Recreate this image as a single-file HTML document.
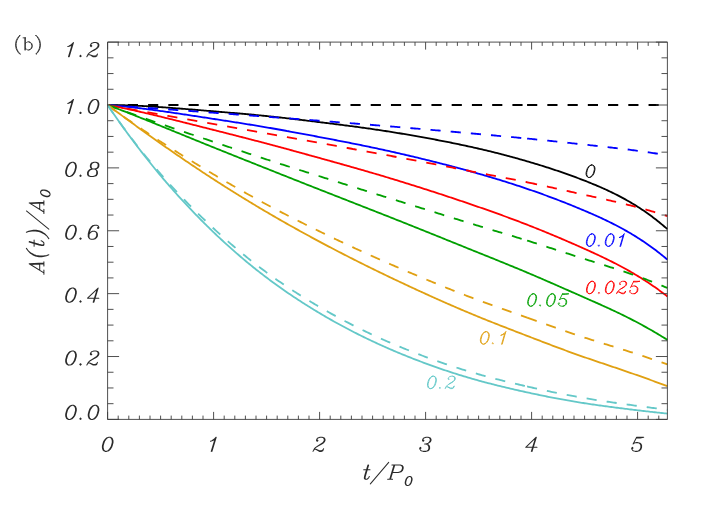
<!DOCTYPE html>
<html><head><meta charset="utf-8"><title>chart</title><style>html,body{margin:0;padding:0;background:#fff;overflow:hidden}svg{display:block}</style></head><body>
<svg width="706" height="505" viewBox="0 0 706 505">
<rect width="706" height="505" fill="#fff"/>
<defs><clipPath id="c"><rect x="107.6" y="42.1" width="560.4" height="377.3"/></clipPath></defs>
<g clip-path="url(#c)" fill="none" stroke-width="1.82" stroke-linejoin="round">
<path d="M107.6 105 L109 105 L110.41 105.01 L111.81 105.02 L113.21 105.03 L114.62 105.05 L116.02 105.07 L117.42 105.09 L118.82 105.12 L120.23 105.15 L121.63 105.18 L123.03 105.22 L124.44 105.26 L125.84 105.3 L127.24 105.35 L128.65 105.4 L130.05 105.45 L131.45 105.51 L132.85 105.56 L134.26 105.62 L135.66 105.69 L137.06 105.75 L138.47 105.82 L139.87 105.89 L141.27 105.96 L142.68 106.03 L144.08 106.11 L145.48 106.19 L146.88 106.27 L148.29 106.35 L149.69 106.44 L151.09 106.52 L152.5 106.61 L153.9 106.7 L155.3 106.79 L156.71 106.88 L158.11 106.97 L159.51 107.07 L160.91 107.16 L162.32 107.26 L163.72 107.36 L165.12 107.46 L166.53 107.56 L167.93 107.66 L169.33 107.76 L170.74 107.87 L172.14 107.97 L173.54 108.08 L174.94 108.19 L176.35 108.29 L177.75 108.4 L179.15 108.51 L180.56 108.62 L181.96 108.73 L183.36 108.84 L184.77 108.95 L186.17 109.07 L187.57 109.18 L188.97 109.29 L190.38 109.41 L191.78 109.52 L193.18 109.63 L194.59 109.75 L195.99 109.87 L197.39 109.98 L198.8 110.1 L200.2 110.21 L201.6 110.33 L203 110.45 L204.41 110.56 L205.81 110.68 L207.21 110.8 L208.62 110.92 L210.02 111.03 L211.42 111.15 L212.83 111.27 L214.23 111.38 L215.63 111.5 L217.03 111.62 L218.44 111.74 L219.84 111.85 L221.24 111.97 L222.65 112.09 L224.05 112.2 L225.45 112.32 L226.86 112.44 L228.26 112.56 L229.66 112.68 L231.06 112.79 L232.47 112.91 L233.87 113.03 L235.27 113.15 L236.68 113.27 L238.08 113.4 L239.48 113.52 L240.89 113.64 L242.29 113.76 L243.69 113.89 L245.09 114.01 L246.5 114.14 L247.9 114.27 L249.3 114.39 L250.71 114.52 L252.11 114.65 L253.51 114.78 L254.92 114.91 L256.32 115.05 L257.72 115.18 L259.12 115.32 L260.53 115.45 L261.93 115.59 L263.33 115.73 L264.74 115.87 L266.14 116.01 L267.54 116.15 L268.95 116.3 L270.35 116.45 L271.75 116.59 L273.15 116.74 L274.56 116.89 L275.96 117.04 L277.36 117.19 L278.77 117.35 L280.17 117.5 L281.57 117.66 L282.98 117.82 L284.38 117.97 L285.78 118.13 L287.18 118.29 L288.59 118.45 L289.99 118.62 L291.39 118.78 L292.8 118.94 L294.2 119.1 L295.6 119.27 L297.01 119.44 L298.41 119.6 L299.81 119.77 L301.22 119.94 L302.62 120.1 L304.02 120.27 L305.42 120.44 L306.83 120.61 L308.23 120.78 L309.63 120.95 L311.04 121.12 L312.44 121.29 L313.84 121.46 L315.25 121.64 L316.65 121.81 L318.05 121.98 L319.45 122.15 L320.86 122.32 L322.26 122.49 L323.66 122.67 L325.07 122.84 L326.47 123.01 L327.87 123.19 L329.28 123.36 L330.68 123.53 L332.08 123.71 L333.48 123.88 L334.89 124.06 L336.29 124.23 L337.69 124.41 L339.1 124.59 L340.5 124.77 L341.9 124.94 L343.31 125.12 L344.71 125.3 L346.11 125.48 L347.51 125.66 L348.92 125.85 L350.32 126.03 L351.72 126.22 L353.13 126.4 L354.53 126.59 L355.93 126.77 L357.34 126.96 L358.74 127.15 L360.14 127.34 L361.54 127.54 L362.95 127.73 L364.35 127.92 L365.75 128.12 L367.16 128.32 L368.56 128.52 L369.96 128.72 L371.37 128.92 L372.77 129.12 L374.17 129.33 L375.57 129.53 L376.98 129.74 L378.38 129.95 L379.78 130.16 L381.19 130.37 L382.59 130.59 L383.99 130.8 L385.4 131.02 L386.8 131.24 L388.2 131.46 L389.6 131.68 L391.01 131.9 L392.41 132.13 L393.81 132.35 L395.22 132.58 L396.62 132.81 L398.02 133.04 L399.43 133.27 L400.83 133.5 L402.23 133.74 L403.63 133.97 L405.04 134.21 L406.44 134.45 L407.84 134.69 L409.25 134.93 L410.65 135.17 L412.05 135.41 L413.46 135.66 L414.86 135.9 L416.26 136.15 L417.66 136.4 L419.07 136.65 L420.47 136.9 L421.87 137.15 L423.28 137.4 L424.68 137.66 L426.08 137.91 L427.49 138.17 L428.89 138.43 L430.29 138.69 L431.69 138.95 L433.1 139.21 L434.5 139.48 L435.9 139.74 L437.31 140.01 L438.71 140.28 L440.11 140.54 L441.52 140.82 L442.92 141.09 L444.32 141.36 L445.72 141.64 L447.13 141.92 L448.53 142.19 L449.93 142.48 L451.34 142.76 L452.74 143.04 L454.14 143.33 L455.55 143.62 L456.95 143.91 L458.35 144.2 L459.75 144.49 L461.16 144.79 L462.56 145.08 L463.96 145.38 L465.37 145.69 L466.77 145.99 L468.17 146.29 L469.58 146.6 L470.98 146.91 L472.38 147.22 L473.78 147.54 L475.19 147.86 L476.59 148.17 L477.99 148.5 L479.4 148.82 L480.8 149.14 L482.2 149.47 L483.61 149.8 L485.01 150.14 L486.41 150.47 L487.82 150.81 L489.22 151.15 L490.62 151.49 L492.02 151.84 L493.43 152.18 L494.83 152.53 L496.23 152.89 L497.64 153.24 L499.04 153.6 L500.44 153.96 L501.85 154.32 L503.25 154.68 L504.65 155.05 L506.05 155.42 L507.46 155.79 L508.86 156.17 L510.26 156.55 L511.67 156.93 L513.07 157.31 L514.47 157.69 L515.88 158.08 L517.28 158.47 L518.68 158.86 L520.08 159.26 L521.49 159.65 L522.89 160.05 L524.29 160.46 L525.7 160.86 L527.1 161.27 L528.5 161.68 L529.91 162.1 L531.31 162.51 L532.71 162.93 L534.11 163.35 L535.52 163.78 L536.92 164.2 L538.32 164.63 L539.73 165.07 L541.13 165.5 L542.53 165.94 L543.94 166.38 L545.34 166.83 L546.74 167.27 L548.14 167.73 L549.55 168.18 L550.95 168.64 L552.35 169.1 L553.76 169.56 L555.16 170.03 L556.56 170.5 L557.97 170.97 L559.37 171.45 L560.77 171.93 L562.17 172.41 L563.58 172.9 L564.98 173.39 L566.38 173.89 L567.79 174.39 L569.19 174.89 L570.59 175.4 L572 175.9 L573.4 176.42 L574.8 176.94 L576.2 177.46 L577.61 177.98 L579.01 178.51 L580.41 179.05 L581.82 179.58 L583.22 180.13 L584.62 180.67 L586.03 181.22 L587.43 181.78 L588.83 182.34 L590.23 182.9 L591.64 183.47 L593.04 184.05 L594.44 184.63 L595.85 185.21 L597.25 185.81 L598.65 186.41 L600.06 187.01 L601.46 187.63 L602.86 188.25 L604.26 188.88 L605.67 189.52 L607.07 190.16 L608.47 190.81 L609.88 191.48 L611.28 192.15 L612.68 192.83 L614.09 193.52 L615.49 194.21 L616.89 194.92 L618.29 195.64 L619.7 196.37 L621.1 197.11 L622.5 197.86 L623.91 198.62 L625.31 199.4 L626.71 200.18 L628.12 200.98 L629.52 201.79 L630.92 202.61 L632.32 203.44 L633.73 204.29 L635.13 205.15 L636.53 206.03 L637.94 206.91 L639.34 207.81 L640.74 208.73 L642.15 209.66 L643.55 210.6 L644.95 211.56 L646.35 212.54 L647.76 213.53 L649.16 214.54 L650.56 215.56 L651.97 216.6 L653.37 217.65 L654.77 218.72 L656.18 219.81 L657.58 220.92 L658.98 222.04 L660.38 223.18 L661.79 224.34 L663.19 225.52 L664.59 226.72 L666 227.93 L667.4 229.17" stroke="#000000"/>
<path d="M107.6 105 L109 105 L110.41 105 L111.81 105 L113.21 105 L114.62 105 L116.02 105 L117.42 105 L118.82 105 L120.23 105 L121.63 105 L123.03 105 L124.44 105 L125.84 105 L127.24 105 L128.65 105 L130.05 105 L131.45 105 L132.85 105 L134.26 105 L135.66 105 L137.06 105 L138.47 105 L139.87 105 L141.27 105 L142.68 105 L144.08 105 L145.48 105 L146.88 105 L148.29 105 L149.69 105 L151.09 105 L152.5 105 L153.9 105 L155.3 105 L156.71 105 L158.11 105 L159.51 105 L160.91 105 L162.32 105 L163.72 105 L165.12 105 L166.53 105 L167.93 105 L169.33 105 L170.74 105 L172.14 105 L173.54 105 L174.94 105 L176.35 105 L177.75 105 L179.15 105 L180.56 105 L181.96 105 L183.36 105 L184.77 105 L186.17 105 L187.57 105 L188.97 105 L190.38 105 L191.78 105 L193.18 105 L194.59 105 L195.99 105 L197.39 105 L198.8 105 L200.2 105 L201.6 105 L203 105 L204.41 105 L205.81 105 L207.21 105 L208.62 105 L210.02 105 L211.42 105 L212.83 105 L214.23 105 L215.63 105 L217.03 105 L218.44 105 L219.84 105 L221.24 105 L222.65 105 L224.05 105 L225.45 105 L226.86 105 L228.26 105 L229.66 105 L231.06 105 L232.47 105 L233.87 105 L235.27 105 L236.68 105 L238.08 105 L239.48 105 L240.89 105 L242.29 105 L243.69 105 L245.09 105 L246.5 105 L247.9 105 L249.3 105 L250.71 105 L252.11 105 L253.51 105 L254.92 105 L256.32 105 L257.72 105 L259.13 105 L260.53 105 L261.93 105 L263.33 105 L264.74 105 L266.14 105 L267.54 105 L268.95 105 L270.35 105 L271.75 105 L273.16 105 L274.56 105 L275.96 105 L277.36 105 L278.77 105 L280.17 105 L281.57 105 L282.98 105 L284.38 105 L285.78 105 L287.19 105 L288.59 105 L289.99 105 L291.39 105 L292.8 105 L294.2 105 L295.6 105 L297.01 105 L298.41 105 L299.81 105 L301.22 105 L302.62 105 L304.02 105 L305.42 105 L306.83 105 L308.23 105 L309.63 105 L311.04 105 L312.44 105 L313.84 105 L315.25 105 L316.65 105 L318.05 105 L319.45 105 L320.86 105 L322.26 105 L323.66 105 L325.07 105 L326.47 105 L327.87 105 L329.28 105 L330.68 105 L332.08 105 L333.48 105 L334.89 105 L336.29 105 L337.69 105 L339.1 105 L340.5 105 L341.9 105 L343.31 105 L344.71 105 L346.11 105 L347.51 105 L348.92 105 L350.32 105 L351.72 105 L353.13 105 L354.53 105 L355.93 105 L357.34 105 L358.74 105 L360.14 105 L361.54 105 L362.95 105 L364.35 105 L365.75 105 L367.16 105 L368.56 105 L369.96 105 L371.37 105 L372.77 105 L374.17 105 L375.57 105 L376.98 105 L378.38 105 L379.78 105 L381.19 105 L382.59 105 L383.99 105 L385.4 105 L386.8 105 L388.2 105 L389.61 105 L391.01 105 L392.41 105 L393.81 105 L395.22 105 L396.62 105 L398.02 105 L399.43 105 L400.83 105 L402.23 105 L403.64 105 L405.04 105 L406.44 105 L407.84 105 L409.25 105 L410.65 105 L412.05 105 L413.46 105 L414.86 105 L416.26 105 L417.67 105 L419.07 105 L420.47 105 L421.87 105 L423.28 105 L424.68 105 L426.08 105 L427.49 105 L428.89 105 L430.29 105 L431.7 105 L433.1 105 L434.5 105 L435.9 105 L437.31 105 L438.71 105 L440.11 105 L441.52 105 L442.92 105 L444.32 105 L445.73 105 L447.13 105 L448.53 105 L449.93 105 L451.34 105 L452.74 105 L454.14 105 L455.55 105 L456.95 105 L458.35 105 L459.76 105 L461.16 105 L462.56 105 L463.96 105 L465.37 105 L466.77 105 L468.17 105 L469.58 105 L470.98 105 L472.38 105 L473.79 105 L475.19 105 L476.59 105 L477.99 105 L479.4 105 L480.8 105 L482.2 105 L483.61 105 L485.01 105 L486.41 105 L487.82 105 L489.22 105 L490.62 105 L492.02 105 L493.43 105 L494.83 105 L496.23 105 L497.64 105 L499.04 105 L500.44 105 L501.85 105 L503.25 105 L504.65 105 L506.05 105 L507.46 105 L508.86 105 L510.26 105 L511.67 105 L513.07 105 L514.47 105 L515.88 105 L517.28 105 L518.68 105 L520.08 105 L521.49 105 L522.89 105 L524.29 105 L525.7 105 L527.1 105" stroke="#000000" stroke-dasharray="10.17 10.07"/>
<path d="M527.1 105 L528.52 105 L529.93 105 L531.35 105 L532.77 105 L534.19 105 L535.6 105 L537.02 105 L538.44 105 L539.85 105 L541.27 105 L542.69 105 L544.11 105 L545.52 105 L546.94 105 L548.36 105 L549.77 105 L551.19 105 L552.61 105 L554.03 105 L555.44 105 L556.86 105 L558.28 105 L559.69 105 L561.11 105 L562.53 105 L563.95 105 L565.36 105 L566.78 105 L568.2 105 L569.62 105 L571.03 105 L572.45 105 L573.87 105 L575.28 105 L576.7 105 L578.12 105 L579.54 105 L580.95 105 L582.37 105 L583.79 105 L585.2 105 L586.62 105 L588.04 105 L589.46 105 L590.87 105 L592.29 105 L593.71 105 L595.12 105 L596.54 105 L597.96 105 L599.38 105 L600.79 105 L602.21 105 L603.63 105 L605.04 105 L606.46 105 L607.88 105 L609.3 105 L610.71 105 L612.13 105 L613.55 105 L614.96 105 L616.38 105 L617.8 105 L619.22 105 L620.63 105 L622.05 105 L623.47 105 L624.88 105 L626.3 105 L627.72 105 L629.14 105 L630.55 105 L631.97 105 L633.39 105 L634.81 105 L636.22 105 L637.64 105 L639.06 105 L640.47 105 L641.89 105 L643.31 105 L644.73 105 L646.14 105 L647.56 105 L648.98 105 L650.39 105 L651.81 105 L653.23 105 L654.65 105 L656.06 105 L657.48 105 L658.9 105 L660.31 105 L661.73 105 L663.15 105 L664.57 105 L665.98 105 L667.4 105" stroke="#000000" stroke-dasharray="10.17 10.07"/>
<path d="M107.6 105 L109 105.11 L110.41 105.22 L111.81 105.33 L113.21 105.45 L114.62 105.57 L116.02 105.69 L117.42 105.82 L118.82 105.95 L120.23 106.08 L121.63 106.22 L123.03 106.36 L124.44 106.5 L125.84 106.64 L127.24 106.79 L128.65 106.94 L130.05 107.1 L131.45 107.25 L132.85 107.41 L134.26 107.57 L135.66 107.74 L137.06 107.9 L138.47 108.07 L139.87 108.24 L141.27 108.42 L142.68 108.59 L144.08 108.77 L145.48 108.95 L146.88 109.13 L148.29 109.31 L149.69 109.5 L151.09 109.68 L152.5 109.87 L153.9 110.06 L155.3 110.25 L156.71 110.44 L158.11 110.64 L159.51 110.83 L160.91 111.03 L162.32 111.22 L163.72 111.42 L165.12 111.62 L166.53 111.82 L167.93 112.02 L169.33 112.22 L170.74 112.43 L172.14 112.63 L173.54 112.84 L174.94 113.04 L176.35 113.25 L177.75 113.46 L179.15 113.66 L180.56 113.87 L181.96 114.08 L183.36 114.29 L184.77 114.5 L186.17 114.71 L187.57 114.93 L188.97 115.14 L190.38 115.35 L191.78 115.56 L193.18 115.78 L194.59 115.99 L195.99 116.21 L197.39 116.42 L198.8 116.64 L200.2 116.85 L201.6 117.07 L203 117.28 L204.41 117.5 L205.81 117.72 L207.21 117.93 L208.62 118.15 L210.02 118.36 L211.42 118.58 L212.83 118.8 L214.23 119.01 L215.63 119.23 L217.03 119.45 L218.44 119.66 L219.84 119.88 L221.24 120.1 L222.65 120.31 L224.05 120.53 L225.45 120.75 L226.86 120.96 L228.26 121.18 L229.66 121.4 L231.06 121.62 L232.47 121.84 L233.87 122.06 L235.27 122.28 L236.68 122.5 L238.08 122.72 L239.48 122.94 L240.89 123.16 L242.29 123.38 L243.69 123.61 L245.09 123.83 L246.5 124.05 L247.9 124.28 L249.3 124.51 L250.71 124.73 L252.11 124.96 L253.51 125.19 L254.92 125.42 L256.32 125.65 L257.72 125.88 L259.12 126.12 L260.53 126.35 L261.93 126.59 L263.33 126.82 L264.74 127.06 L266.14 127.3 L267.54 127.54 L268.95 127.78 L270.35 128.02 L271.75 128.27 L273.15 128.51 L274.56 128.76 L275.96 129.01 L277.36 129.25 L278.77 129.5 L280.17 129.75 L281.57 130 L282.98 130.26 L284.38 130.51 L285.78 130.76 L287.18 131.02 L288.59 131.27 L289.99 131.53 L291.39 131.79 L292.8 132.04 L294.2 132.3 L295.6 132.56 L297.01 132.82 L298.41 133.08 L299.81 133.34 L301.22 133.61 L302.62 133.87 L304.02 134.13 L305.42 134.39 L306.83 134.66 L308.23 134.92 L309.63 135.19 L311.04 135.45 L312.44 135.71 L313.84 135.98 L315.25 136.25 L316.65 136.51 L318.05 136.78 L319.45 137.04 L320.86 137.31 L322.26 137.58 L323.66 137.84 L325.07 138.11 L326.47 138.38 L327.87 138.64 L329.28 138.91 L330.68 139.18 L332.08 139.45 L333.48 139.72 L334.89 139.99 L336.29 140.26 L337.69 140.53 L339.1 140.8 L340.5 141.07 L341.9 141.34 L343.31 141.62 L344.71 141.89 L346.11 142.17 L347.51 142.44 L348.92 142.72 L350.32 143 L351.72 143.27 L353.13 143.55 L354.53 143.83 L355.93 144.12 L357.34 144.4 L358.74 144.68 L360.14 144.96 L361.54 145.25 L362.95 145.54 L364.35 145.82 L365.75 146.11 L367.16 146.4 L368.56 146.7 L369.96 146.99 L371.37 147.28 L372.77 147.58 L374.17 147.87 L375.57 148.17 L376.98 148.47 L378.38 148.77 L379.78 149.08 L381.19 149.38 L382.59 149.69 L383.99 149.99 L385.4 150.3 L386.8 150.61 L388.2 150.92 L389.6 151.23 L391.01 151.55 L392.41 151.86 L393.81 152.18 L395.22 152.49 L396.62 152.81 L398.02 153.13 L399.43 153.45 L400.83 153.77 L402.23 154.1 L403.63 154.42 L405.04 154.75 L406.44 155.08 L407.84 155.41 L409.25 155.74 L410.65 156.07 L412.05 156.4 L413.46 156.73 L414.86 157.07 L416.26 157.4 L417.66 157.74 L419.07 158.08 L420.47 158.42 L421.87 158.76 L423.28 159.1 L424.68 159.45 L426.08 159.79 L427.49 160.14 L428.89 160.48 L430.29 160.83 L431.69 161.18 L433.1 161.53 L434.5 161.88 L435.9 162.23 L437.31 162.59 L438.71 162.94 L440.11 163.3 L441.52 163.66 L442.92 164.02 L444.32 164.38 L445.72 164.74 L447.13 165.11 L448.53 165.47 L449.93 165.84 L451.34 166.21 L452.74 166.58 L454.14 166.95 L455.55 167.32 L456.95 167.7 L458.35 168.07 L459.75 168.45 L461.16 168.83 L462.56 169.21 L463.96 169.59 L465.37 169.98 L466.77 170.36 L468.17 170.75 L469.58 171.14 L470.98 171.53 L472.38 171.92 L473.78 172.32 L475.19 172.71 L476.59 173.11 L477.99 173.51 L479.4 173.91 L480.8 174.31 L482.2 174.72 L483.61 175.13 L485.01 175.53 L486.41 175.95 L487.82 176.36 L489.22 176.77 L490.62 177.19 L492.02 177.61 L493.43 178.03 L494.83 178.45 L496.23 178.88 L497.64 179.3 L499.04 179.73 L500.44 180.17 L501.85 180.6 L503.25 181.04 L504.65 181.47 L506.05 181.91 L507.46 182.36 L508.86 182.8 L510.26 183.25 L511.67 183.7 L513.07 184.15 L514.47 184.61 L515.88 185.06 L517.28 185.52 L518.68 185.98 L520.08 186.45 L521.49 186.92 L522.89 187.38 L524.29 187.86 L525.7 188.33 L527.1 188.81 L528.5 189.29 L529.91 189.77 L531.31 190.25 L532.71 190.74 L534.11 191.23 L535.52 191.73 L536.92 192.22 L538.32 192.72 L539.73 193.22 L541.13 193.72 L542.53 194.23 L543.94 194.74 L545.34 195.25 L546.74 195.77 L548.14 196.28 L549.55 196.8 L550.95 197.33 L552.35 197.85 L553.76 198.38 L555.16 198.91 L556.56 199.45 L557.97 199.98 L559.37 200.52 L560.77 201.06 L562.17 201.61 L563.58 202.16 L564.98 202.71 L566.38 203.26 L567.79 203.82 L569.19 204.38 L570.59 204.94 L572 205.51 L573.4 206.08 L574.8 206.65 L576.2 207.23 L577.61 207.8 L579.01 208.39 L580.41 208.97 L581.82 209.56 L583.22 210.15 L584.62 210.74 L586.03 211.34 L587.43 211.94 L588.83 212.54 L590.23 213.15 L591.64 213.76 L593.04 214.37 L594.44 214.99 L595.85 215.62 L597.25 216.25 L598.65 216.89 L600.06 217.53 L601.46 218.18 L602.86 218.83 L604.26 219.49 L605.67 220.16 L607.07 220.83 L608.47 221.52 L609.88 222.2 L611.28 222.9 L612.68 223.61 L614.09 224.32 L615.49 225.04 L616.89 225.77 L618.29 226.51 L619.7 227.25 L621.1 228.01 L622.5 228.78 L623.91 229.55 L625.31 230.34 L626.71 231.14 L628.12 231.94 L629.52 232.76 L630.92 233.59 L632.32 234.43 L633.73 235.28 L635.13 236.14 L636.53 237.02 L637.94 237.9 L639.34 238.8 L640.74 239.71 L642.15 240.63 L643.55 241.57 L644.95 242.52 L646.35 243.48 L647.76 244.46 L649.16 245.44 L650.56 246.45 L651.97 247.46 L653.37 248.5 L654.77 249.54 L656.18 250.6 L657.58 251.68 L658.98 252.76 L660.38 253.87 L661.79 254.99 L663.19 256.12 L664.59 257.28 L666 258.44 L667.4 259.62" stroke="#0000ff"/>
<path d="M107.6 105 L109 105.1 L110.41 105.21 L111.81 105.31 L113.21 105.41 L114.62 105.52 L116.02 105.62 L117.42 105.72 L118.82 105.83 L120.23 105.93 L121.63 106.03 L123.03 106.14 L124.44 106.24 L125.84 106.34 L127.24 106.44 L128.65 106.55 L130.05 106.65 L131.45 106.75 L132.85 106.85 L134.26 106.96 L135.66 107.06 L137.06 107.16 L138.47 107.26 L139.87 107.36 L141.27 107.47 L142.68 107.57 L144.08 107.67 L145.48 107.77 L146.88 107.87 L148.29 107.97 L149.69 108.08 L151.09 108.18 L152.5 108.28 L153.9 108.38 L155.3 108.48 L156.71 108.58 L158.11 108.69 L159.51 108.79 L160.91 108.89 L162.32 108.99 L163.72 109.09 L165.12 109.19 L166.53 109.3 L167.93 109.4 L169.33 109.5 L170.74 109.6 L172.14 109.7 L173.54 109.8 L174.94 109.91 L176.35 110.01 L177.75 110.11 L179.15 110.21 L180.56 110.31 L181.96 110.42 L183.36 110.52 L184.77 110.62 L186.17 110.72 L187.57 110.83 L188.97 110.93 L190.38 111.03 L191.78 111.13 L193.18 111.24 L194.59 111.34 L195.99 111.44 L197.39 111.54 L198.8 111.65 L200.2 111.75 L201.6 111.85 L203 111.96 L204.41 112.06 L205.81 112.16 L207.21 112.27 L208.62 112.37 L210.02 112.47 L211.42 112.58 L212.83 112.68 L214.23 112.79 L215.63 112.89 L217.03 113 L218.44 113.1 L219.84 113.21 L221.24 113.31 L222.65 113.42 L224.05 113.52 L225.45 113.63 L226.86 113.73 L228.26 113.84 L229.66 113.94 L231.06 114.05 L232.47 114.15 L233.87 114.26 L235.27 114.36 L236.68 114.47 L238.08 114.58 L239.48 114.68 L240.89 114.79 L242.29 114.89 L243.69 115 L245.09 115.11 L246.5 115.21 L247.9 115.32 L249.3 115.42 L250.71 115.53 L252.11 115.64 L253.51 115.74 L254.92 115.85 L256.32 115.96 L257.72 116.06 L259.13 116.17 L260.53 116.27 L261.93 116.38 L263.33 116.49 L264.74 116.59 L266.14 116.7 L267.54 116.8 L268.95 116.91 L270.35 117.02 L271.75 117.12 L273.16 117.23 L274.56 117.33 L275.96 117.44 L277.36 117.55 L278.77 117.65 L280.17 117.76 L281.57 117.86 L282.98 117.97 L284.38 118.08 L285.78 118.18 L287.19 118.29 L288.59 118.39 L289.99 118.5 L291.39 118.61 L292.8 118.71 L294.2 118.82 L295.6 118.92 L297.01 119.03 L298.41 119.14 L299.81 119.24 L301.22 119.35 L302.62 119.46 L304.02 119.57 L305.42 119.67 L306.83 119.78 L308.23 119.89 L309.63 119.99 L311.04 120.1 L312.44 120.21 L313.84 120.32 L315.25 120.43 L316.65 120.53 L318.05 120.64 L319.45 120.75 L320.86 120.86 L322.26 120.97 L323.66 121.08 L325.07 121.19 L326.47 121.3 L327.87 121.41 L329.28 121.52 L330.68 121.63 L332.08 121.74 L333.48 121.85 L334.89 121.96 L336.29 122.07 L337.69 122.18 L339.1 122.29 L340.5 122.4 L341.9 122.51 L343.31 122.62 L344.71 122.73 L346.11 122.85 L347.51 122.96 L348.92 123.07 L350.32 123.18 L351.72 123.29 L353.13 123.41 L354.53 123.52 L355.93 123.63 L357.34 123.74 L358.74 123.86 L360.14 123.97 L361.54 124.08 L362.95 124.2 L364.35 124.31 L365.75 124.42 L367.16 124.54 L368.56 124.65 L369.96 124.76 L371.37 124.88 L372.77 124.99 L374.17 125.1 L375.57 125.22 L376.98 125.33 L378.38 125.45 L379.78 125.56 L381.19 125.68 L382.59 125.79 L383.99 125.9 L385.4 126.02 L386.8 126.13 L388.2 126.25 L389.61 126.36 L391.01 126.48 L392.41 126.6 L393.81 126.71 L395.22 126.83 L396.62 126.94 L398.02 127.06 L399.43 127.18 L400.83 127.29 L402.23 127.41 L403.64 127.53 L405.04 127.65 L406.44 127.76 L407.84 127.88 L409.25 128 L410.65 128.12 L412.05 128.24 L413.46 128.35 L414.86 128.47 L416.26 128.59 L417.67 128.71 L419.07 128.83 L420.47 128.95 L421.87 129.07 L423.28 129.19 L424.68 129.31 L426.08 129.43 L427.49 129.56 L428.89 129.68 L430.29 129.8 L431.7 129.92 L433.1 130.04 L434.5 130.17 L435.9 130.29 L437.31 130.41 L438.71 130.53 L440.11 130.66 L441.52 130.78 L442.92 130.91 L444.32 131.03 L445.73 131.15 L447.13 131.28 L448.53 131.4 L449.93 131.53 L451.34 131.65 L452.74 131.78 L454.14 131.9 L455.55 132.02 L456.95 132.15 L458.35 132.27 L459.76 132.4 L461.16 132.53 L462.56 132.65 L463.96 132.78 L465.37 132.9 L466.77 133.03 L468.17 133.15 L469.58 133.28 L470.98 133.4 L472.38 133.53 L473.79 133.65 L475.19 133.78 L476.59 133.9 L477.99 134.03 L479.4 134.15 L480.8 134.28 L482.2 134.4 L483.61 134.53 L485.01 134.65 L486.41 134.78 L487.82 134.91 L489.22 135.03 L490.62 135.16 L492.02 135.28 L493.43 135.41 L494.83 135.53 L496.23 135.66 L497.64 135.79 L499.04 135.91 L500.44 136.04 L501.85 136.17 L503.25 136.3 L504.65 136.42 L506.05 136.55 L507.46 136.68 L508.86 136.81 L510.26 136.94 L511.67 137.07 L513.07 137.2 L514.47 137.33 L515.88 137.46 L517.28 137.6 L518.68 137.73 L520.08 137.86 L521.49 138 L522.89 138.13 L524.29 138.27 L525.7 138.4 L527.1 138.54" stroke="#0000ff" stroke-dasharray="10.17 10.07"/>
<path d="M527.1 138.54 L528.52 138.68 L529.93 138.82 L531.35 138.96 L532.77 139.1 L534.19 139.24 L535.6 139.38 L537.02 139.53 L538.44 139.67 L539.85 139.82 L541.27 139.96 L542.69 140.11 L544.11 140.25 L545.52 140.4 L546.94 140.55 L548.36 140.7 L549.77 140.85 L551.19 141 L552.61 141.14 L554.03 141.3 L555.44 141.45 L556.86 141.6 L558.28 141.75 L559.69 141.9 L561.11 142.05 L562.53 142.2 L563.95 142.36 L565.36 142.51 L566.78 142.66 L568.2 142.82 L569.62 142.97 L571.03 143.12 L572.45 143.28 L573.87 143.43 L575.28 143.58 L576.7 143.74 L578.12 143.89 L579.54 144.05 L580.95 144.2 L582.37 144.35 L583.79 144.51 L585.2 144.66 L586.62 144.82 L588.04 144.97 L589.46 145.12 L590.87 145.28 L592.29 145.43 L593.71 145.59 L595.12 145.74 L596.54 145.9 L597.96 146.05 L599.38 146.21 L600.79 146.37 L602.21 146.52 L603.63 146.68 L605.04 146.84 L606.46 147 L607.88 147.16 L609.3 147.32 L610.71 147.48 L612.13 147.65 L613.55 147.81 L614.96 147.98 L616.38 148.14 L617.8 148.31 L619.22 148.48 L620.63 148.65 L622.05 148.82 L623.47 148.99 L624.88 149.17 L626.3 149.34 L627.72 149.52 L629.14 149.7 L630.55 149.88 L631.97 150.06 L633.39 150.25 L634.81 150.43 L636.22 150.62 L637.64 150.81 L639.06 151 L640.47 151.2 L641.89 151.39 L643.31 151.59 L644.73 151.79 L646.14 151.99 L647.56 152.2 L648.98 152.41 L650.39 152.62 L651.81 152.83 L653.23 153.04 L654.65 153.26 L656.06 153.48 L657.48 153.7 L658.9 153.93 L660.31 154.16 L661.73 154.39 L663.15 154.62 L664.57 154.86 L665.98 155.1 L667.4 155.34" stroke="#0000ff" stroke-dasharray="10.17 10.07"/>
<path d="M107.6 105 L109 105.26 L110.41 105.53 L111.81 105.79 L113.21 106.07 L114.62 106.34 L116.02 106.62 L117.42 106.9 L118.82 107.18 L120.23 107.47 L121.63 107.76 L123.03 108.05 L124.44 108.35 L125.84 108.64 L127.24 108.94 L128.65 109.25 L130.05 109.55 L131.45 109.86 L132.85 110.17 L134.26 110.48 L135.66 110.79 L137.06 111.11 L138.47 111.43 L139.87 111.75 L141.27 112.07 L142.68 112.39 L144.08 112.72 L145.48 113.04 L146.88 113.37 L148.29 113.7 L149.69 114.03 L151.09 114.37 L152.5 114.7 L153.9 115.04 L155.3 115.37 L156.71 115.71 L158.11 116.05 L159.51 116.39 L160.91 116.73 L162.32 117.07 L163.72 117.42 L165.12 117.76 L166.53 118.1 L167.93 118.45 L169.33 118.79 L170.74 119.14 L172.14 119.49 L173.54 119.84 L174.94 120.19 L176.35 120.53 L177.75 120.88 L179.15 121.24 L180.56 121.59 L181.96 121.94 L183.36 122.29 L184.77 122.64 L186.17 123 L187.57 123.35 L188.97 123.7 L190.38 124.06 L191.78 124.41 L193.18 124.77 L194.59 125.12 L195.99 125.48 L197.39 125.83 L198.8 126.19 L200.2 126.54 L201.6 126.9 L203 127.26 L204.41 127.61 L205.81 127.97 L207.21 128.32 L208.62 128.68 L210.02 129.04 L211.42 129.39 L212.83 129.75 L214.23 130.1 L215.63 130.46 L217.03 130.82 L218.44 131.17 L219.84 131.53 L221.24 131.88 L222.65 132.24 L224.05 132.6 L225.45 132.95 L226.86 133.31 L228.26 133.67 L229.66 134.02 L231.06 134.38 L232.47 134.74 L233.87 135.09 L235.27 135.45 L236.68 135.81 L238.08 136.17 L239.48 136.53 L240.89 136.89 L242.29 137.25 L243.69 137.61 L245.09 137.97 L246.5 138.33 L247.9 138.69 L249.3 139.05 L250.71 139.41 L252.11 139.78 L253.51 140.14 L254.92 140.51 L256.32 140.87 L257.72 141.24 L259.12 141.6 L260.53 141.97 L261.93 142.34 L263.33 142.71 L264.74 143.08 L266.14 143.45 L267.54 143.82 L268.95 144.19 L270.35 144.57 L271.75 144.94 L273.15 145.32 L274.56 145.69 L275.96 146.07 L277.36 146.45 L278.77 146.82 L280.17 147.2 L281.57 147.58 L282.98 147.96 L284.38 148.34 L285.78 148.72 L287.18 149.11 L288.59 149.49 L289.99 149.87 L291.39 150.25 L292.8 150.64 L294.2 151.02 L295.6 151.41 L297.01 151.79 L298.41 152.18 L299.81 152.56 L301.22 152.95 L302.62 153.34 L304.02 153.72 L305.42 154.11 L306.83 154.5 L308.23 154.89 L309.63 155.27 L311.04 155.66 L312.44 156.05 L313.84 156.44 L315.25 156.83 L316.65 157.22 L318.05 157.61 L319.45 157.99 L320.86 158.38 L322.26 158.77 L323.66 159.16 L325.07 159.55 L326.47 159.94 L327.87 160.33 L329.28 160.72 L330.68 161.11 L332.08 161.5 L333.48 161.89 L334.89 162.29 L336.29 162.68 L337.69 163.07 L339.1 163.46 L340.5 163.86 L341.9 164.25 L343.31 164.64 L344.71 165.04 L346.11 165.43 L347.51 165.83 L348.92 166.23 L350.32 166.62 L351.72 167.02 L353.13 167.42 L354.53 167.82 L355.93 168.22 L357.34 168.62 L358.74 169.02 L360.14 169.42 L361.54 169.83 L362.95 170.23 L364.35 170.64 L365.75 171.04 L367.16 171.45 L368.56 171.86 L369.96 172.26 L371.37 172.67 L372.77 173.09 L374.17 173.5 L375.57 173.91 L376.98 174.32 L378.38 174.74 L379.78 175.16 L381.19 175.57 L382.59 175.99 L383.99 176.41 L385.4 176.83 L386.8 177.25 L388.2 177.67 L389.6 178.1 L391.01 178.52 L392.41 178.95 L393.81 179.37 L395.22 179.8 L396.62 180.23 L398.02 180.66 L399.43 181.09 L400.83 181.52 L402.23 181.95 L403.63 182.39 L405.04 182.82 L406.44 183.26 L407.84 183.69 L409.25 184.13 L410.65 184.57 L412.05 185.01 L413.46 185.45 L414.86 185.89 L416.26 186.33 L417.66 186.78 L419.07 187.22 L420.47 187.67 L421.87 188.11 L423.28 188.56 L424.68 189.01 L426.08 189.46 L427.49 189.91 L428.89 190.36 L430.29 190.81 L431.69 191.26 L433.1 191.72 L434.5 192.17 L435.9 192.63 L437.31 193.09 L438.71 193.54 L440.11 194 L441.52 194.46 L442.92 194.92 L444.32 195.39 L445.72 195.85 L447.13 196.31 L448.53 196.78 L449.93 197.24 L451.34 197.71 L452.74 198.18 L454.14 198.65 L455.55 199.11 L456.95 199.59 L458.35 200.06 L459.75 200.53 L461.16 201 L462.56 201.48 L463.96 201.95 L465.37 202.43 L466.77 202.91 L468.17 203.39 L469.58 203.87 L470.98 204.35 L472.38 204.83 L473.78 205.31 L475.19 205.79 L476.59 206.28 L477.99 206.77 L479.4 207.25 L480.8 207.74 L482.2 208.23 L483.61 208.72 L485.01 209.21 L486.41 209.7 L487.82 210.2 L489.22 210.69 L490.62 211.19 L492.02 211.69 L493.43 212.19 L494.83 212.69 L496.23 213.19 L497.64 213.69 L499.04 214.2 L500.44 214.71 L501.85 215.21 L503.25 215.73 L504.65 216.24 L506.05 216.75 L507.46 217.27 L508.86 217.79 L510.26 218.31 L511.67 218.83 L513.07 219.35 L514.47 219.88 L515.88 220.4 L517.28 220.93 L518.68 221.47 L520.08 222 L521.49 222.54 L522.89 223.08 L524.29 223.62 L525.7 224.16 L527.1 224.7 L528.5 225.25 L529.91 225.8 L531.31 226.35 L532.71 226.91 L534.11 227.47 L535.52 228.02 L536.92 228.59 L538.32 229.15 L539.73 229.72 L541.13 230.28 L542.53 230.86 L543.94 231.43 L545.34 232 L546.74 232.58 L548.14 233.16 L549.55 233.74 L550.95 234.32 L552.35 234.91 L553.76 235.5 L555.16 236.09 L556.56 236.68 L557.97 237.27 L559.37 237.87 L560.77 238.46 L562.17 239.06 L563.58 239.66 L564.98 240.27 L566.38 240.87 L567.79 241.48 L569.19 242.09 L570.59 242.7 L572 243.31 L573.4 243.92 L574.8 244.54 L576.2 245.16 L577.61 245.77 L579.01 246.39 L580.41 247.02 L581.82 247.64 L583.22 248.27 L584.62 248.89 L586.03 249.52 L587.43 250.15 L588.83 250.78 L590.23 251.42 L591.64 252.06 L593.04 252.7 L594.44 253.34 L595.85 253.99 L597.25 254.64 L598.65 255.3 L600.06 255.96 L601.46 256.62 L602.86 257.29 L604.26 257.96 L605.67 258.64 L607.07 259.32 L608.47 260.01 L609.88 260.71 L611.28 261.41 L612.68 262.12 L614.09 262.83 L615.49 263.55 L616.89 264.28 L618.29 265.01 L619.7 265.75 L621.1 266.5 L622.5 267.25 L623.91 268.02 L625.31 268.79 L626.71 269.57 L628.12 270.36 L629.52 271.15 L630.92 271.96 L632.32 272.77 L633.73 273.6 L635.13 274.43 L636.53 275.27 L637.94 276.12 L639.34 276.98 L640.74 277.85 L642.15 278.73 L643.55 279.62 L644.95 280.52 L646.35 281.43 L647.76 282.36 L649.16 283.29 L650.56 284.23 L651.97 285.18 L653.37 286.15 L654.77 287.12 L656.18 288.11 L657.58 289.11 L658.98 290.12 L660.38 291.14 L661.79 292.17 L663.19 293.22 L664.59 294.27 L666 295.34 L667.4 296.42" stroke="#ff0000"/>
<path d="M107.6 105 L109 105.26 L110.41 105.52 L111.81 105.78 L113.21 106.04 L114.62 106.29 L116.02 106.55 L117.42 106.81 L118.82 107.06 L120.23 107.32 L121.63 107.58 L123.03 107.83 L124.44 108.09 L125.84 108.34 L127.24 108.6 L128.65 108.85 L130.05 109.11 L131.45 109.36 L132.85 109.61 L134.26 109.87 L135.66 110.12 L137.06 110.37 L138.47 110.62 L139.87 110.88 L141.27 111.13 L142.68 111.38 L144.08 111.63 L145.48 111.88 L146.88 112.13 L148.29 112.38 L149.69 112.63 L151.09 112.88 L152.5 113.13 L153.9 113.38 L155.3 113.63 L156.71 113.88 L158.11 114.13 L159.51 114.38 L160.91 114.63 L162.32 114.88 L163.72 115.13 L165.12 115.38 L166.53 115.63 L167.93 115.88 L169.33 116.13 L170.74 116.38 L172.14 116.63 L173.54 116.87 L174.94 117.12 L176.35 117.37 L177.75 117.62 L179.15 117.87 L180.56 118.12 L181.96 118.37 L183.36 118.61 L184.77 118.86 L186.17 119.11 L187.57 119.36 L188.97 119.61 L190.38 119.86 L191.78 120.11 L193.18 120.36 L194.59 120.61 L195.99 120.86 L197.39 121.11 L198.8 121.35 L200.2 121.6 L201.6 121.85 L203 122.1 L204.41 122.35 L205.81 122.6 L207.21 122.85 L208.62 123.1 L210.02 123.36 L211.42 123.61 L212.83 123.86 L214.23 124.11 L215.63 124.36 L217.03 124.61 L218.44 124.86 L219.84 125.11 L221.24 125.37 L222.65 125.62 L224.05 125.87 L225.45 126.12 L226.86 126.38 L228.26 126.63 L229.66 126.88 L231.06 127.13 L232.47 127.39 L233.87 127.64 L235.27 127.89 L236.68 128.14 L238.08 128.4 L239.48 128.65 L240.89 128.9 L242.29 129.15 L243.69 129.41 L245.09 129.66 L246.5 129.91 L247.9 130.16 L249.3 130.42 L250.71 130.67 L252.11 130.92 L253.51 131.17 L254.92 131.43 L256.32 131.68 L257.72 131.93 L259.13 132.18 L260.53 132.43 L261.93 132.68 L263.33 132.93 L264.74 133.18 L266.14 133.43 L267.54 133.68 L268.95 133.93 L270.35 134.18 L271.75 134.43 L273.16 134.68 L274.56 134.93 L275.96 135.18 L277.36 135.43 L278.77 135.68 L280.17 135.93 L281.57 136.18 L282.98 136.43 L284.38 136.68 L285.78 136.92 L287.19 137.17 L288.59 137.42 L289.99 137.67 L291.39 137.92 L292.8 138.17 L294.2 138.42 L295.6 138.66 L297.01 138.91 L298.41 139.16 L299.81 139.41 L301.22 139.66 L302.62 139.91 L304.02 140.16 L305.42 140.41 L306.83 140.66 L308.23 140.91 L309.63 141.16 L311.04 141.41 L312.44 141.66 L313.84 141.91 L315.25 142.16 L316.65 142.41 L318.05 142.66 L319.45 142.91 L320.86 143.16 L322.26 143.42 L323.66 143.67 L325.07 143.92 L326.47 144.17 L327.87 144.43 L329.28 144.68 L330.68 144.93 L332.08 145.19 L333.48 145.44 L334.89 145.69 L336.29 145.95 L337.69 146.2 L339.1 146.46 L340.5 146.71 L341.9 146.97 L343.31 147.22 L344.71 147.48 L346.11 147.73 L347.51 147.99 L348.92 148.25 L350.32 148.5 L351.72 148.76 L353.13 149.02 L354.53 149.27 L355.93 149.53 L357.34 149.79 L358.74 150.04 L360.14 150.3 L361.54 150.56 L362.95 150.81 L364.35 151.07 L365.75 151.33 L367.16 151.59 L368.56 151.84 L369.96 152.1 L371.37 152.36 L372.77 152.62 L374.17 152.88 L375.57 153.13 L376.98 153.39 L378.38 153.65 L379.78 153.91 L381.19 154.17 L382.59 154.43 L383.99 154.68 L385.4 154.94 L386.8 155.2 L388.2 155.46 L389.61 155.72 L391.01 155.98 L392.41 156.24 L393.81 156.5 L395.22 156.76 L396.62 157.02 L398.02 157.28 L399.43 157.54 L400.83 157.81 L402.23 158.07 L403.64 158.33 L405.04 158.59 L406.44 158.85 L407.84 159.12 L409.25 159.38 L410.65 159.64 L412.05 159.91 L413.46 160.17 L414.86 160.44 L416.26 160.7 L417.67 160.97 L419.07 161.23 L420.47 161.5 L421.87 161.77 L423.28 162.03 L424.68 162.3 L426.08 162.57 L427.49 162.84 L428.89 163.11 L430.29 163.38 L431.7 163.65 L433.1 163.92 L434.5 164.19 L435.9 164.46 L437.31 164.73 L438.71 165 L440.11 165.27 L441.52 165.54 L442.92 165.82 L444.32 166.09 L445.73 166.36 L447.13 166.63 L448.53 166.91 L449.93 167.18 L451.34 167.45 L452.74 167.72 L454.14 168 L455.55 168.27 L456.95 168.54 L458.35 168.82 L459.76 169.09 L461.16 169.36 L462.56 169.63 L463.96 169.91 L465.37 170.18 L466.77 170.45 L468.17 170.72 L469.58 171 L470.98 171.27 L472.38 171.54 L473.79 171.81 L475.19 172.08 L476.59 172.35 L477.99 172.63 L479.4 172.9 L480.8 173.17 L482.2 173.44 L483.61 173.71 L485.01 173.98 L486.41 174.25 L487.82 174.52 L489.22 174.79 L490.62 175.06 L492.02 175.33 L493.43 175.6 L494.83 175.87 L496.23 176.14 L497.64 176.41 L499.04 176.68 L500.44 176.95 L501.85 177.22 L503.25 177.5 L504.65 177.77 L506.05 178.05 L507.46 178.32 L508.86 178.6 L510.26 178.87 L511.67 179.15 L513.07 179.43 L514.47 179.71 L515.88 179.99 L517.28 180.27 L518.68 180.55 L520.08 180.83 L521.49 181.11 L522.89 181.4 L524.29 181.68 L525.7 181.97 L527.1 182.26" stroke="#ff0000" stroke-dasharray="10.17 10.07"/>
<path d="M527.1 182.26 L528.52 182.55 L529.93 182.85 L531.35 183.14 L532.77 183.44 L534.19 183.74 L535.6 184.04 L537.02 184.34 L538.44 184.64 L539.85 184.95 L541.27 185.25 L542.69 185.56 L544.11 185.86 L545.52 186.17 L546.94 186.48 L548.36 186.79 L549.77 187.1 L551.19 187.41 L552.61 187.72 L554.03 188.03 L555.44 188.35 L556.86 188.66 L558.28 188.98 L559.69 189.29 L561.11 189.6 L562.53 189.92 L563.95 190.24 L565.36 190.55 L566.78 190.87 L568.2 191.18 L569.62 191.5 L571.03 191.82 L572.45 192.13 L573.87 192.45 L575.28 192.77 L576.7 193.08 L578.12 193.4 L579.54 193.71 L580.95 194.03 L582.37 194.34 L583.79 194.66 L585.2 194.97 L586.62 195.29 L588.04 195.6 L589.46 195.92 L590.87 196.23 L592.29 196.54 L593.71 196.86 L595.12 197.17 L596.54 197.49 L597.96 197.8 L599.38 198.12 L600.79 198.44 L602.21 198.76 L603.63 199.08 L605.04 199.4 L606.46 199.72 L607.88 200.04 L609.3 200.37 L610.71 200.69 L612.13 201.02 L613.55 201.35 L614.96 201.68 L616.38 202.01 L617.8 202.35 L619.22 202.69 L620.63 203.03 L622.05 203.37 L623.47 203.71 L624.88 204.06 L626.3 204.41 L627.72 204.76 L629.14 205.12 L630.55 205.48 L631.97 205.84 L633.39 206.21 L634.81 206.58 L636.22 206.95 L637.64 207.32 L639.06 207.7 L640.47 208.08 L641.89 208.47 L643.31 208.86 L644.73 209.25 L646.14 209.65 L647.56 210.05 L648.98 210.46 L650.39 210.87 L651.81 211.28 L653.23 211.7 L654.65 212.12 L656.06 212.55 L657.48 212.98 L658.9 213.42 L660.31 213.86 L661.73 214.31 L663.15 214.76 L664.57 215.22 L665.98 215.68 L667.4 216.15" stroke="#ff0000" stroke-dasharray="10.17 10.07"/>
<path d="M107.6 105 L109 105.52 L110.41 106.04 L111.81 106.57 L113.21 107.1 L114.62 107.63 L116.02 108.16 L117.42 108.7 L118.82 109.23 L120.23 109.77 L121.63 110.31 L123.03 110.86 L124.44 111.4 L125.84 111.95 L127.24 112.5 L128.65 113.05 L130.05 113.6 L131.45 114.15 L132.85 114.7 L134.26 115.26 L135.66 115.82 L137.06 116.38 L138.47 116.93 L139.87 117.5 L141.27 118.06 L142.68 118.62 L144.08 119.18 L145.48 119.75 L146.88 120.31 L148.29 120.88 L149.69 121.45 L151.09 122.02 L152.5 122.58 L153.9 123.15 L155.3 123.72 L156.71 124.29 L158.11 124.86 L159.51 125.43 L160.91 126 L162.32 126.58 L163.72 127.15 L165.12 127.72 L166.53 128.29 L167.93 128.86 L169.33 129.43 L170.74 130.01 L172.14 130.58 L173.54 131.15 L174.94 131.72 L176.35 132.29 L177.75 132.87 L179.15 133.44 L180.56 134.01 L181.96 134.58 L183.36 135.16 L184.77 135.73 L186.17 136.3 L187.57 136.87 L188.97 137.44 L190.38 138.02 L191.78 138.59 L193.18 139.16 L194.59 139.73 L195.99 140.3 L197.39 140.87 L198.8 141.44 L200.2 142.01 L201.6 142.58 L203 143.15 L204.41 143.72 L205.81 144.29 L207.21 144.85 L208.62 145.42 L210.02 145.99 L211.42 146.56 L212.83 147.12 L214.23 147.69 L215.63 148.25 L217.03 148.82 L218.44 149.38 L219.84 149.95 L221.24 150.51 L222.65 151.07 L224.05 151.64 L225.45 152.2 L226.86 152.76 L228.26 153.32 L229.66 153.88 L231.06 154.44 L232.47 155 L233.87 155.57 L235.27 156.13 L236.68 156.69 L238.08 157.24 L239.48 157.8 L240.89 158.36 L242.29 158.92 L243.69 159.48 L245.09 160.04 L246.5 160.6 L247.9 161.16 L249.3 161.71 L250.71 162.27 L252.11 162.83 L253.51 163.39 L254.92 163.95 L256.32 164.5 L257.72 165.06 L259.12 165.62 L260.53 166.18 L261.93 166.73 L263.33 167.29 L264.74 167.85 L266.14 168.41 L267.54 168.96 L268.95 169.52 L270.35 170.08 L271.75 170.64 L273.15 171.19 L274.56 171.75 L275.96 172.31 L277.36 172.87 L278.77 173.42 L280.17 173.98 L281.57 174.54 L282.98 175.09 L284.38 175.65 L285.78 176.21 L287.18 176.76 L288.59 177.32 L289.99 177.88 L291.39 178.43 L292.8 178.99 L294.2 179.55 L295.6 180.1 L297.01 180.66 L298.41 181.21 L299.81 181.77 L301.22 182.32 L302.62 182.88 L304.02 183.43 L305.42 183.99 L306.83 184.54 L308.23 185.1 L309.63 185.65 L311.04 186.2 L312.44 186.76 L313.84 187.31 L315.25 187.86 L316.65 188.41 L318.05 188.96 L319.45 189.52 L320.86 190.07 L322.26 190.62 L323.66 191.17 L325.07 191.72 L326.47 192.27 L327.87 192.82 L329.28 193.37 L330.68 193.92 L332.08 194.47 L333.48 195.02 L334.89 195.57 L336.29 196.11 L337.69 196.66 L339.1 197.21 L340.5 197.76 L341.9 198.31 L343.31 198.86 L344.71 199.41 L346.11 199.95 L347.51 200.5 L348.92 201.05 L350.32 201.6 L351.72 202.15 L353.13 202.7 L354.53 203.24 L355.93 203.79 L357.34 204.34 L358.74 204.89 L360.14 205.44 L361.54 205.99 L362.95 206.54 L364.35 207.09 L365.75 207.64 L367.16 208.19 L368.56 208.74 L369.96 209.29 L371.37 209.84 L372.77 210.39 L374.17 210.94 L375.57 211.49 L376.98 212.05 L378.38 212.6 L379.78 213.15 L381.19 213.7 L382.59 214.26 L383.99 214.81 L385.4 215.36 L386.8 215.92 L388.2 216.47 L389.6 217.03 L391.01 217.58 L392.41 218.14 L393.81 218.69 L395.22 219.25 L396.62 219.8 L398.02 220.36 L399.43 220.92 L400.83 221.47 L402.23 222.03 L403.63 222.59 L405.04 223.15 L406.44 223.71 L407.84 224.27 L409.25 224.82 L410.65 225.38 L412.05 225.94 L413.46 226.5 L414.86 227.06 L416.26 227.63 L417.66 228.19 L419.07 228.75 L420.47 229.31 L421.87 229.87 L423.28 230.44 L424.68 231 L426.08 231.56 L427.49 232.13 L428.89 232.69 L430.29 233.25 L431.69 233.82 L433.1 234.38 L434.5 234.95 L435.9 235.52 L437.31 236.08 L438.71 236.65 L440.11 237.21 L441.52 237.78 L442.92 238.34 L444.32 238.91 L445.72 239.48 L447.13 240.04 L448.53 240.61 L449.93 241.18 L451.34 241.74 L452.74 242.31 L454.14 242.88 L455.55 243.44 L456.95 244.01 L458.35 244.58 L459.75 245.15 L461.16 245.71 L462.56 246.28 L463.96 246.84 L465.37 247.41 L466.77 247.98 L468.17 248.54 L469.58 249.11 L470.98 249.68 L472.38 250.24 L473.78 250.81 L475.19 251.37 L476.59 251.94 L477.99 252.5 L479.4 253.07 L480.8 253.63 L482.2 254.2 L483.61 254.76 L485.01 255.32 L486.41 255.89 L487.82 256.45 L489.22 257.02 L490.62 257.58 L492.02 258.15 L493.43 258.71 L494.83 259.28 L496.23 259.85 L497.64 260.41 L499.04 260.98 L500.44 261.55 L501.85 262.12 L503.25 262.69 L504.65 263.26 L506.05 263.83 L507.46 264.41 L508.86 264.98 L510.26 265.56 L511.67 266.13 L513.07 266.71 L514.47 267.29 L515.88 267.87 L517.28 268.45 L518.68 269.03 L520.08 269.61 L521.49 270.2 L522.89 270.78 L524.29 271.37 L525.7 271.96 L527.1 272.55 L528.5 273.14 L529.91 273.73 L531.31 274.33 L532.71 274.93 L534.11 275.52 L535.52 276.12 L536.92 276.73 L538.32 277.33 L539.73 277.93 L541.13 278.54 L542.53 279.14 L543.94 279.75 L545.34 280.36 L546.74 280.97 L548.14 281.58 L549.55 282.19 L550.95 282.81 L552.35 283.42 L553.76 284.03 L555.16 284.65 L556.56 285.26 L557.97 285.88 L559.37 286.49 L560.77 287.11 L562.17 287.73 L563.58 288.34 L564.98 288.96 L566.38 289.58 L567.79 290.2 L569.19 290.82 L570.59 291.44 L572 292.05 L573.4 292.67 L574.8 293.29 L576.2 293.91 L577.61 294.53 L579.01 295.15 L580.41 295.76 L581.82 296.38 L583.22 297 L584.62 297.62 L586.03 298.23 L587.43 298.85 L588.83 299.47 L590.23 300.09 L591.64 300.71 L593.04 301.33 L594.44 301.95 L595.85 302.57 L597.25 303.19 L598.65 303.82 L600.06 304.44 L601.46 305.07 L602.86 305.71 L604.26 306.34 L605.67 306.98 L607.07 307.62 L608.47 308.26 L609.88 308.91 L611.28 309.56 L612.68 310.21 L614.09 310.87 L615.49 311.53 L616.89 312.2 L618.29 312.87 L619.7 313.55 L621.1 314.23 L622.5 314.91 L623.91 315.6 L625.31 316.29 L626.71 316.99 L628.12 317.7 L629.52 318.41 L630.92 319.12 L632.32 319.84 L633.73 320.57 L635.13 321.3 L636.53 322.04 L637.94 322.79 L639.34 323.54 L640.74 324.29 L642.15 325.06 L643.55 325.83 L644.95 326.6 L646.35 327.38 L647.76 328.17 L649.16 328.97 L650.56 329.77 L651.97 330.58 L653.37 331.39 L654.77 332.21 L656.18 333.04 L657.58 333.87 L658.98 334.71 L660.38 335.56 L661.79 336.41 L663.19 337.27 L664.59 338.14 L666 339.01 L667.4 339.89" stroke="#00a000"/>
<path d="M107.6 105 L109 105.52 L110.41 106.04 L111.81 106.55 L113.21 107.07 L114.62 107.58 L116.02 108.09 L117.42 108.61 L118.82 109.12 L120.23 109.62 L121.63 110.13 L123.03 110.64 L124.44 111.15 L125.84 111.65 L127.24 112.15 L128.65 112.66 L130.05 113.16 L131.45 113.66 L132.85 114.16 L134.26 114.66 L135.66 115.15 L137.06 115.65 L138.47 116.15 L139.87 116.64 L141.27 117.13 L142.68 117.63 L144.08 118.12 L145.48 118.61 L146.88 119.1 L148.29 119.59 L149.69 120.08 L151.09 120.57 L152.5 121.06 L153.9 121.54 L155.3 122.03 L156.71 122.52 L158.11 123 L159.51 123.49 L160.91 123.97 L162.32 124.45 L163.72 124.94 L165.12 125.42 L166.53 125.9 L167.93 126.38 L169.33 126.86 L170.74 127.34 L172.14 127.82 L173.54 128.3 L174.94 128.78 L176.35 129.26 L177.75 129.73 L179.15 130.21 L180.56 130.69 L181.96 131.16 L183.36 131.64 L184.77 132.12 L186.17 132.59 L187.57 133.07 L188.97 133.54 L190.38 134.02 L191.78 134.49 L193.18 134.96 L194.59 135.44 L195.99 135.91 L197.39 136.39 L198.8 136.86 L200.2 137.33 L201.6 137.8 L203 138.28 L204.41 138.75 L205.81 139.22 L207.21 139.69 L208.62 140.17 L210.02 140.64 L211.42 141.11 L212.83 141.58 L214.23 142.06 L215.63 142.53 L217.03 143 L218.44 143.47 L219.84 143.94 L221.24 144.41 L222.65 144.89 L224.05 145.36 L225.45 145.83 L226.86 146.3 L228.26 146.77 L229.66 147.24 L231.06 147.71 L232.47 148.18 L233.87 148.65 L235.27 149.12 L236.68 149.58 L238.08 150.05 L239.48 150.52 L240.89 150.99 L242.29 151.45 L243.69 151.92 L245.09 152.39 L246.5 152.85 L247.9 153.31 L249.3 153.78 L250.71 154.24 L252.11 154.71 L253.51 155.17 L254.92 155.63 L256.32 156.09 L257.72 156.55 L259.13 157.01 L260.53 157.47 L261.93 157.93 L263.33 158.38 L264.74 158.84 L266.14 159.3 L267.54 159.75 L268.95 160.21 L270.35 160.66 L271.75 161.11 L273.16 161.56 L274.56 162.02 L275.96 162.47 L277.36 162.92 L278.77 163.37 L280.17 163.82 L281.57 164.26 L282.98 164.71 L284.38 165.16 L285.78 165.61 L287.19 166.05 L288.59 166.5 L289.99 166.94 L291.39 167.39 L292.8 167.84 L294.2 168.28 L295.6 168.72 L297.01 169.17 L298.41 169.61 L299.81 170.06 L301.22 170.5 L302.62 170.94 L304.02 171.39 L305.42 171.83 L306.83 172.27 L308.23 172.71 L309.63 173.16 L311.04 173.6 L312.44 174.04 L313.84 174.48 L315.25 174.93 L316.65 175.37 L318.05 175.81 L319.45 176.25 L320.86 176.7 L322.26 177.14 L323.66 177.58 L325.07 178.02 L326.47 178.47 L327.87 178.91 L329.28 179.35 L330.68 179.79 L332.08 180.24 L333.48 180.68 L334.89 181.12 L336.29 181.56 L337.69 182.01 L339.1 182.45 L340.5 182.89 L341.9 183.33 L343.31 183.78 L344.71 184.22 L346.11 184.66 L347.51 185.1 L348.92 185.54 L350.32 185.99 L351.72 186.43 L353.13 186.87 L354.53 187.31 L355.93 187.75 L357.34 188.19 L358.74 188.63 L360.14 189.07 L361.54 189.51 L362.95 189.95 L364.35 190.39 L365.75 190.83 L367.16 191.27 L368.56 191.71 L369.96 192.15 L371.37 192.58 L372.77 193.02 L374.17 193.46 L375.57 193.9 L376.98 194.33 L378.38 194.77 L379.78 195.21 L381.19 195.64 L382.59 196.08 L383.99 196.52 L385.4 196.95 L386.8 197.39 L388.2 197.82 L389.61 198.26 L391.01 198.7 L392.41 199.13 L393.81 199.57 L395.22 200 L396.62 200.44 L398.02 200.87 L399.43 201.31 L400.83 201.74 L402.23 202.18 L403.64 202.61 L405.04 203.05 L406.44 203.48 L407.84 203.92 L409.25 204.36 L410.65 204.79 L412.05 205.23 L413.46 205.66 L414.86 206.1 L416.26 206.54 L417.67 206.97 L419.07 207.41 L420.47 207.85 L421.87 208.29 L423.28 208.72 L424.68 209.16 L426.08 209.6 L427.49 210.04 L428.89 210.48 L430.29 210.92 L431.7 211.35 L433.1 211.79 L434.5 212.23 L435.9 212.67 L437.31 213.11 L438.71 213.55 L440.11 213.99 L441.52 214.43 L442.92 214.87 L444.32 215.31 L445.73 215.75 L447.13 216.18 L448.53 216.62 L449.93 217.06 L451.34 217.5 L452.74 217.93 L454.14 218.37 L455.55 218.81 L456.95 219.24 L458.35 219.68 L459.76 220.11 L461.16 220.55 L462.56 220.98 L463.96 221.41 L465.37 221.85 L466.77 222.28 L468.17 222.71 L469.58 223.14 L470.98 223.57 L472.38 224 L473.79 224.43 L475.19 224.85 L476.59 225.28 L477.99 225.71 L479.4 226.13 L480.8 226.55 L482.2 226.98 L483.61 227.4 L485.01 227.82 L486.41 228.24 L487.82 228.66 L489.22 229.08 L490.62 229.5 L492.02 229.92 L493.43 230.34 L494.83 230.76 L496.23 231.18 L497.64 231.6 L499.04 232.02 L500.44 232.44 L501.85 232.86 L503.25 233.28 L504.65 233.7 L506.05 234.12 L507.46 234.54 L508.86 234.96 L510.26 235.39 L511.67 235.81 L513.07 236.23 L514.47 236.66 L515.88 237.09 L517.28 237.51 L518.68 237.94 L520.08 238.37 L521.49 238.8 L522.89 239.23 L524.29 239.67 L525.7 240.1 L527.1 240.54" stroke="#00a000" stroke-dasharray="10.17 10.07"/>
<path d="M527.1 240.54 L528.52 240.98 L529.93 241.42 L531.35 241.86 L532.77 242.31 L534.19 242.76 L535.6 243.21 L537.02 243.66 L538.44 244.11 L539.85 244.56 L541.27 245.02 L542.69 245.47 L544.11 245.93 L545.52 246.39 L546.94 246.84 L548.36 247.3 L549.77 247.76 L551.19 248.22 L552.61 248.68 L554.03 249.14 L555.44 249.6 L556.86 250.06 L558.28 250.52 L559.69 250.98 L561.11 251.44 L562.53 251.9 L563.95 252.36 L565.36 252.82 L566.78 253.28 L568.2 253.74 L569.62 254.2 L571.03 254.66 L572.45 255.12 L573.87 255.58 L575.28 256.03 L576.7 256.49 L578.12 256.94 L579.54 257.4 L580.95 257.85 L582.37 258.3 L583.79 258.75 L585.2 259.2 L586.62 259.65 L588.04 260.1 L589.46 260.54 L590.87 260.99 L592.29 261.43 L593.71 261.88 L595.12 262.32 L596.54 262.77 L597.96 263.21 L599.38 263.66 L600.79 264.11 L602.21 264.55 L603.63 265 L605.04 265.45 L606.46 265.9 L607.88 266.35 L609.3 266.8 L610.71 267.26 L612.13 267.71 L613.55 268.17 L614.96 268.63 L616.38 269.09 L617.8 269.56 L619.22 270.02 L620.63 270.49 L622.05 270.96 L623.47 271.43 L624.88 271.91 L626.3 272.39 L627.72 272.87 L629.14 273.36 L630.55 273.85 L631.97 274.34 L633.39 274.83 L634.81 275.33 L636.22 275.84 L637.64 276.34 L639.06 276.85 L640.47 277.37 L641.89 277.89 L643.31 278.41 L644.73 278.94 L646.14 279.47 L647.56 280 L648.98 280.54 L650.39 281.09 L651.81 281.64 L653.23 282.19 L654.65 282.75 L656.06 283.31 L657.48 283.88 L658.9 284.45 L660.31 285.03 L661.73 285.62 L663.15 286.2 L664.57 286.8 L665.98 287.4 L667.4 288" stroke="#00a000" stroke-dasharray="10.17 10.07"/>
<path d="M107.6 105 L109 106.04 L110.41 107.08 L111.81 108.12 L113.21 109.15 L114.62 110.19 L116.02 111.22 L117.42 112.26 L118.82 113.29 L120.23 114.33 L121.63 115.36 L123.03 116.39 L124.44 117.42 L125.84 118.45 L127.24 119.48 L128.65 120.51 L130.05 121.53 L131.45 122.56 L132.85 123.58 L134.26 124.6 L135.66 125.62 L137.06 126.64 L138.47 127.66 L139.87 128.67 L141.27 129.69 L142.68 130.7 L144.08 131.71 L145.48 132.72 L146.88 133.73 L148.29 134.74 L149.69 135.74 L151.09 136.74 L152.5 137.74 L153.9 138.74 L155.3 139.74 L156.71 140.73 L158.11 141.73 L159.51 142.72 L160.91 143.71 L162.32 144.69 L163.72 145.68 L165.12 146.66 L166.53 147.64 L167.93 148.62 L169.33 149.6 L170.74 150.57 L172.14 151.54 L173.54 152.51 L174.94 153.48 L176.35 154.44 L177.75 155.41 L179.15 156.37 L180.56 157.33 L181.96 158.29 L183.36 159.24 L184.77 160.19 L186.17 161.14 L187.57 162.09 L188.97 163.04 L190.38 163.98 L191.78 164.93 L193.18 165.87 L194.59 166.8 L195.99 167.74 L197.39 168.67 L198.8 169.61 L200.2 170.54 L201.6 171.46 L203 172.39 L204.41 173.31 L205.81 174.23 L207.21 175.15 L208.62 176.07 L210.02 176.98 L211.42 177.89 L212.83 178.8 L214.23 179.71 L215.63 180.62 L217.03 181.52 L218.44 182.42 L219.84 183.32 L221.24 184.22 L222.65 185.11 L224.05 186.01 L225.45 186.9 L226.86 187.78 L228.26 188.67 L229.66 189.55 L231.06 190.44 L232.47 191.31 L233.87 192.19 L235.27 193.07 L236.68 193.94 L238.08 194.81 L239.48 195.68 L240.89 196.54 L242.29 197.41 L243.69 198.27 L245.09 199.13 L246.5 199.99 L247.9 200.84 L249.3 201.69 L250.71 202.54 L252.11 203.39 L253.51 204.24 L254.92 205.08 L256.32 205.92 L257.72 206.76 L259.12 207.6 L260.53 208.44 L261.93 209.27 L263.33 210.1 L264.74 210.93 L266.14 211.75 L267.54 212.58 L268.95 213.4 L270.35 214.22 L271.75 215.03 L273.15 215.85 L274.56 216.66 L275.96 217.47 L277.36 218.28 L278.77 219.09 L280.17 219.89 L281.57 220.69 L282.98 221.49 L284.38 222.29 L285.78 223.09 L287.18 223.88 L288.59 224.67 L289.99 225.46 L291.39 226.25 L292.8 227.04 L294.2 227.82 L295.6 228.6 L297.01 229.38 L298.41 230.16 L299.81 230.94 L301.22 231.71 L302.62 232.49 L304.02 233.26 L305.42 234.03 L306.83 234.79 L308.23 235.56 L309.63 236.32 L311.04 237.08 L312.44 237.84 L313.84 238.6 L315.25 239.36 L316.65 240.11 L318.05 240.86 L319.45 241.61 L320.86 242.36 L322.26 243.11 L323.66 243.86 L325.07 244.6 L326.47 245.34 L327.87 246.08 L329.28 246.82 L330.68 247.56 L332.08 248.29 L333.48 249.03 L334.89 249.76 L336.29 250.49 L337.69 251.22 L339.1 251.95 L340.5 252.67 L341.9 253.39 L343.31 254.12 L344.71 254.84 L346.11 255.56 L347.51 256.27 L348.92 256.99 L350.32 257.7 L351.72 258.41 L353.13 259.12 L354.53 259.83 L355.93 260.54 L357.34 261.25 L358.74 261.95 L360.14 262.65 L361.54 263.35 L362.95 264.05 L364.35 264.75 L365.75 265.45 L367.16 266.14 L368.56 266.84 L369.96 267.53 L371.37 268.22 L372.77 268.91 L374.17 269.59 L375.57 270.28 L376.98 270.96 L378.38 271.65 L379.78 272.33 L381.19 273.01 L382.59 273.69 L383.99 274.36 L385.4 275.04 L386.8 275.71 L388.2 276.38 L389.6 277.06 L391.01 277.73 L392.41 278.39 L393.81 279.06 L395.22 279.73 L396.62 280.39 L398.02 281.05 L399.43 281.72 L400.83 282.38 L402.23 283.04 L403.63 283.69 L405.04 284.35 L406.44 285.01 L407.84 285.66 L409.25 286.31 L410.65 286.97 L412.05 287.62 L413.46 288.27 L414.86 288.91 L416.26 289.56 L417.66 290.21 L419.07 290.85 L420.47 291.49 L421.87 292.14 L423.28 292.78 L424.68 293.42 L426.08 294.06 L427.49 294.69 L428.89 295.33 L430.29 295.96 L431.69 296.6 L433.1 297.23 L434.5 297.86 L435.9 298.49 L437.31 299.12 L438.71 299.74 L440.11 300.37 L441.52 300.99 L442.92 301.61 L444.32 302.24 L445.72 302.85 L447.13 303.47 L448.53 304.09 L449.93 304.7 L451.34 305.31 L452.74 305.92 L454.14 306.53 L455.55 307.14 L456.95 307.74 L458.35 308.35 L459.75 308.95 L461.16 309.55 L462.56 310.14 L463.96 310.74 L465.37 311.33 L466.77 311.92 L468.17 312.51 L469.58 313.1 L470.98 313.68 L472.38 314.27 L473.78 314.85 L475.19 315.43 L476.59 316 L477.99 316.58 L479.4 317.15 L480.8 317.72 L482.2 318.29 L483.61 318.86 L485.01 319.42 L486.41 319.98 L487.82 320.54 L489.22 321.1 L490.62 321.66 L492.02 322.22 L493.43 322.77 L494.83 323.33 L496.23 323.88 L497.64 324.43 L499.04 324.98 L500.44 325.53 L501.85 326.08 L503.25 326.63 L504.65 327.18 L506.05 327.72 L507.46 328.27 L508.86 328.81 L510.26 329.36 L511.67 329.9 L513.07 330.44 L514.47 330.99 L515.88 331.53 L517.28 332.07 L518.68 332.61 L520.08 333.15 L521.49 333.69 L522.89 334.23 L524.29 334.77 L525.7 335.31 L527.1 335.86 L528.5 336.4 L529.91 336.94 L531.31 337.48 L532.71 338.02 L534.11 338.56 L535.52 339.1 L536.92 339.63 L538.32 340.17 L539.73 340.71 L541.13 341.25 L542.53 341.79 L543.94 342.32 L545.34 342.86 L546.74 343.4 L548.14 343.93 L549.55 344.46 L550.95 344.99 L552.35 345.53 L553.76 346.06 L555.16 346.58 L556.56 347.11 L557.97 347.64 L559.37 348.16 L560.77 348.68 L562.17 349.2 L563.58 349.72 L564.98 350.24 L566.38 350.76 L567.79 351.27 L569.19 351.78 L570.59 352.29 L572 352.8 L573.4 353.31 L574.8 353.81 L576.2 354.31 L577.61 354.81 L579.01 355.31 L580.41 355.8 L581.82 356.3 L583.22 356.79 L584.62 357.28 L586.03 357.76 L587.43 358.25 L588.83 358.73 L590.23 359.21 L591.64 359.69 L593.04 360.16 L594.44 360.64 L595.85 361.11 L597.25 361.59 L598.65 362.06 L600.06 362.53 L601.46 363.01 L602.86 363.48 L604.26 363.95 L605.67 364.42 L607.07 364.89 L608.47 365.37 L609.88 365.84 L611.28 366.31 L612.68 366.78 L614.09 367.26 L615.49 367.73 L616.89 368.21 L618.29 368.68 L619.7 369.16 L621.1 369.64 L622.5 370.12 L623.91 370.6 L625.31 371.08 L626.71 371.56 L628.12 372.05 L629.52 372.53 L630.92 373.02 L632.32 373.51 L633.73 373.99 L635.13 374.49 L636.53 374.98 L637.94 375.47 L639.34 375.97 L640.74 376.47 L642.15 376.96 L643.55 377.46 L644.95 377.97 L646.35 378.47 L647.76 378.97 L649.16 379.48 L650.56 379.99 L651.97 380.5 L653.37 381.01 L654.77 381.52 L656.18 382.03 L657.58 382.54 L658.98 383.06 L660.38 383.58 L661.79 384.09 L663.19 384.61 L664.59 385.13 L666 385.65 L667.4 386.17" stroke="#e0a012"/>
<path d="M107.6 105 L109 106.04 L110.41 107.07 L111.81 108.1 L113.21 109.12 L114.62 110.14 L116.02 111.16 L117.42 112.17 L118.82 113.18 L120.23 114.18 L121.63 115.18 L123.03 116.18 L124.44 117.17 L125.84 118.16 L127.24 119.14 L128.65 120.13 L130.05 121.1 L131.45 122.08 L132.85 123.05 L134.26 124.02 L135.66 124.98 L137.06 125.94 L138.47 126.9 L139.87 127.85 L141.27 128.8 L142.68 129.75 L144.08 130.69 L145.48 131.63 L146.88 132.57 L148.29 133.51 L149.69 134.44 L151.09 135.37 L152.5 136.3 L153.9 137.22 L155.3 138.14 L156.71 139.06 L158.11 139.97 L159.51 140.89 L160.91 141.8 L162.32 142.7 L163.72 143.61 L165.12 144.51 L166.53 145.41 L167.93 146.31 L169.33 147.2 L170.74 148.09 L172.14 148.98 L173.54 149.87 L174.94 150.76 L176.35 151.64 L177.75 152.52 L179.15 153.4 L180.56 154.28 L181.96 155.15 L183.36 156.02 L184.77 156.89 L186.17 157.76 L187.57 158.63 L188.97 159.49 L190.38 160.35 L191.78 161.21 L193.18 162.07 L194.59 162.93 L195.99 163.78 L197.39 164.64 L198.8 165.49 L200.2 166.34 L201.6 167.19 L203 168.03 L204.41 168.88 L205.81 169.72 L207.21 170.56 L208.62 171.4 L210.02 172.24 L211.42 173.07 L212.83 173.91 L214.23 174.74 L215.63 175.57 L217.03 176.41 L218.44 177.23 L219.84 178.06 L221.24 178.89 L222.65 179.71 L224.05 180.53 L225.45 181.35 L226.86 182.17 L228.26 182.99 L229.66 183.8 L231.06 184.61 L232.47 185.43 L233.87 186.23 L235.27 187.04 L236.68 187.85 L238.08 188.65 L239.48 189.45 L240.89 190.25 L242.29 191.04 L243.69 191.84 L245.09 192.63 L246.5 193.42 L247.9 194.2 L249.3 194.99 L250.71 195.77 L252.11 196.55 L253.51 197.33 L254.92 198.11 L256.32 198.88 L257.72 199.65 L259.13 200.42 L260.53 201.18 L261.93 201.94 L263.33 202.7 L264.74 203.46 L266.14 204.22 L267.54 204.97 L268.95 205.72 L270.35 206.47 L271.75 207.21 L273.16 207.95 L274.56 208.69 L275.96 209.43 L277.36 210.16 L278.77 210.9 L280.17 211.63 L281.57 212.36 L282.98 213.08 L284.38 213.81 L285.78 214.53 L287.19 215.25 L288.59 215.97 L289.99 216.69 L291.39 217.4 L292.8 218.11 L294.2 218.82 L295.6 219.53 L297.01 220.24 L298.41 220.95 L299.81 221.65 L301.22 222.35 L302.62 223.05 L304.02 223.75 L305.42 224.45 L306.83 225.15 L308.23 225.84 L309.63 226.54 L311.04 227.23 L312.44 227.92 L313.84 228.61 L315.25 229.3 L316.65 229.99 L318.05 230.67 L319.45 231.36 L320.86 232.04 L322.26 232.72 L323.66 233.41 L325.07 234.09 L326.47 234.77 L327.87 235.44 L329.28 236.12 L330.68 236.8 L332.08 237.47 L333.48 238.14 L334.89 238.81 L336.29 239.48 L337.69 240.15 L339.1 240.82 L340.5 241.49 L341.9 242.15 L343.31 242.81 L344.71 243.48 L346.11 244.14 L347.51 244.8 L348.92 245.45 L350.32 246.11 L351.72 246.77 L353.13 247.42 L354.53 248.07 L355.93 248.72 L357.34 249.37 L358.74 250.02 L360.14 250.66 L361.54 251.31 L362.95 251.95 L364.35 252.59 L365.75 253.23 L367.16 253.87 L368.56 254.5 L369.96 255.14 L371.37 255.77 L372.77 256.4 L374.17 257.03 L375.57 257.66 L376.98 258.29 L378.38 258.91 L379.78 259.53 L381.19 260.16 L382.59 260.78 L383.99 261.39 L385.4 262.01 L386.8 262.63 L388.2 263.24 L389.61 263.86 L391.01 264.47 L392.41 265.08 L393.81 265.69 L395.22 266.3 L396.62 266.9 L398.02 267.51 L399.43 268.11 L400.83 268.72 L402.23 269.32 L403.64 269.92 L405.04 270.52 L406.44 271.12 L407.84 271.72 L409.25 272.31 L410.65 272.91 L412.05 273.5 L413.46 274.1 L414.86 274.69 L416.26 275.28 L417.67 275.87 L419.07 276.46 L420.47 277.05 L421.87 277.64 L423.28 278.23 L424.68 278.81 L426.08 279.4 L427.49 279.98 L428.89 280.57 L430.29 281.15 L431.7 281.73 L433.1 282.31 L434.5 282.89 L435.9 283.47 L437.31 284.05 L438.71 284.62 L440.11 285.2 L441.52 285.77 L442.92 286.34 L444.32 286.91 L445.73 287.48 L447.13 288.05 L448.53 288.61 L449.93 289.18 L451.34 289.74 L452.74 290.3 L454.14 290.86 L455.55 291.42 L456.95 291.97 L458.35 292.53 L459.76 293.08 L461.16 293.63 L462.56 294.18 L463.96 294.72 L465.37 295.27 L466.77 295.81 L468.17 296.35 L469.58 296.89 L470.98 297.42 L472.38 297.96 L473.79 298.49 L475.19 299.02 L476.59 299.54 L477.99 300.07 L479.4 300.59 L480.8 301.11 L482.2 301.63 L483.61 302.15 L485.01 302.66 L486.41 303.17 L487.82 303.68 L489.22 304.19 L490.62 304.7 L492.02 305.21 L493.43 305.71 L494.83 306.22 L496.23 306.72 L497.64 307.22 L499.04 307.72 L500.44 308.22 L501.85 308.72 L503.25 309.22 L504.65 309.71 L506.05 310.21 L507.46 310.71 L508.86 311.2 L510.26 311.7 L511.67 312.2 L513.07 312.69 L514.47 313.19 L515.88 313.68 L517.28 314.17 L518.68 314.67 L520.08 315.16 L521.49 315.66 L522.89 316.16 L524.29 316.65 L525.7 317.15 L527.1 317.64" stroke="#e0a012" stroke-dasharray="10.17 10.07"/>
<path d="M527.1 317.64 L528.52 318.14 L529.93 318.65 L531.35 319.15 L532.77 319.65 L534.19 320.16 L535.6 320.66 L537.02 321.17 L538.44 321.67 L539.85 322.17 L541.27 322.68 L542.69 323.18 L544.11 323.69 L545.52 324.19 L546.94 324.69 L548.36 325.2 L549.77 325.7 L551.19 326.2 L552.61 326.7 L554.03 327.2 L555.44 327.7 L556.86 328.19 L558.28 328.69 L559.69 329.18 L561.11 329.67 L562.53 330.17 L563.95 330.66 L565.36 331.14 L566.78 331.63 L568.2 332.12 L569.62 332.6 L571.03 333.08 L572.45 333.56 L573.87 334.04 L575.28 334.51 L576.7 334.98 L578.12 335.45 L579.54 335.92 L580.95 336.39 L582.37 336.85 L583.79 337.31 L585.2 337.77 L586.62 338.23 L588.04 338.68 L589.46 339.13 L590.87 339.58 L592.29 340.03 L593.71 340.48 L595.12 340.92 L596.54 341.37 L597.96 341.81 L599.38 342.25 L600.79 342.69 L602.21 343.14 L603.63 343.58 L605.04 344.02 L606.46 344.46 L607.88 344.9 L609.3 345.34 L610.71 345.78 L612.13 346.22 L613.55 346.66 L614.96 347.1 L616.38 347.54 L617.8 347.98 L619.22 348.43 L620.63 348.87 L622.05 349.32 L623.47 349.76 L624.88 350.21 L626.3 350.66 L627.72 351.11 L629.14 351.56 L630.55 352.02 L631.97 352.47 L633.39 352.93 L634.81 353.39 L636.22 353.85 L637.64 354.31 L639.06 354.77 L640.47 355.24 L641.89 355.7 L643.31 356.17 L644.73 356.65 L646.14 357.12 L647.56 357.59 L648.98 358.07 L650.39 358.55 L651.81 359.04 L653.23 359.52 L654.65 360.01 L656.06 360.49 L657.48 360.99 L658.9 361.48 L660.31 361.97 L661.73 362.47 L663.15 362.97 L664.57 363.47 L665.98 363.98 L667.4 364.48" stroke="#e0a012" stroke-dasharray="10.17 10.07"/>
<path d="M107.6 105 L109 107.07 L110.41 109.13 L111.81 111.18 L113.21 113.22 L114.62 115.25 L116.02 117.26 L117.42 119.26 L118.82 121.26 L120.23 123.24 L121.63 125.21 L123.03 127.16 L124.44 129.11 L125.84 131.05 L127.24 132.97 L128.65 134.88 L130.05 136.79 L131.45 138.68 L132.85 140.56 L134.26 142.43 L135.66 144.29 L137.06 146.14 L138.47 147.98 L139.87 149.8 L141.27 151.62 L142.68 153.43 L144.08 155.22 L145.48 157.01 L146.88 158.78 L148.29 160.55 L149.69 162.3 L151.09 164.05 L152.5 165.78 L153.9 167.5 L155.3 169.22 L156.71 170.92 L158.11 172.61 L159.51 174.3 L160.91 175.97 L162.32 177.64 L163.72 179.29 L165.12 180.94 L166.53 182.57 L167.93 184.2 L169.33 185.81 L170.74 187.42 L172.14 189.01 L173.54 190.6 L174.94 192.18 L176.35 193.75 L177.75 195.31 L179.15 196.86 L180.56 198.4 L181.96 199.94 L183.36 201.46 L184.77 202.98 L186.17 204.48 L187.57 205.98 L188.97 207.47 L190.38 208.95 L191.78 210.43 L193.18 211.89 L194.59 213.35 L195.99 214.79 L197.39 216.23 L198.8 217.67 L200.2 219.09 L201.6 220.5 L203 221.91 L204.41 223.31 L205.81 224.7 L207.21 226.08 L208.62 227.46 L210.02 228.83 L211.42 230.18 L212.83 231.54 L214.23 232.88 L215.63 234.22 L217.03 235.55 L218.44 236.87 L219.84 238.18 L221.24 239.49 L222.65 240.79 L224.05 242.08 L225.45 243.36 L226.86 244.64 L228.26 245.9 L229.66 247.16 L231.06 248.42 L232.47 249.66 L233.87 250.9 L235.27 252.13 L236.68 253.35 L238.08 254.56 L239.48 255.77 L240.89 256.97 L242.29 258.16 L243.69 259.35 L245.09 260.52 L246.5 261.69 L247.9 262.85 L249.3 264.01 L250.71 265.15 L252.11 266.29 L253.51 267.43 L254.92 268.55 L256.32 269.67 L257.72 270.78 L259.12 271.88 L260.53 272.97 L261.93 274.06 L263.33 275.14 L264.74 276.21 L266.14 277.28 L267.54 278.34 L268.95 279.39 L270.35 280.44 L271.75 281.47 L273.15 282.5 L274.56 283.53 L275.96 284.54 L277.36 285.55 L278.77 286.56 L280.17 287.55 L281.57 288.54 L282.98 289.53 L284.38 290.51 L285.78 291.48 L287.18 292.44 L288.59 293.4 L289.99 294.36 L291.39 295.3 L292.8 296.24 L294.2 297.18 L295.6 298.11 L297.01 299.03 L298.41 299.95 L299.81 300.86 L301.22 301.77 L302.62 302.67 L304.02 303.57 L305.42 304.46 L306.83 305.34 L308.23 306.22 L309.63 307.09 L311.04 307.96 L312.44 308.83 L313.84 309.68 L315.25 310.54 L316.65 311.39 L318.05 312.23 L319.45 313.07 L320.86 313.9 L322.26 314.73 L323.66 315.55 L325.07 316.37 L326.47 317.18 L327.87 317.99 L329.28 318.8 L330.68 319.59 L332.08 320.39 L333.48 321.18 L334.89 321.96 L336.29 322.74 L337.69 323.52 L339.1 324.29 L340.5 325.05 L341.9 325.81 L343.31 326.57 L344.71 327.32 L346.11 328.06 L347.51 328.81 L348.92 329.54 L350.32 330.28 L351.72 331 L353.13 331.73 L354.53 332.45 L355.93 333.16 L357.34 333.87 L358.74 334.57 L360.14 335.27 L361.54 335.97 L362.95 336.66 L364.35 337.35 L365.75 338.03 L367.16 338.71 L368.56 339.38 L369.96 340.05 L371.37 340.72 L372.77 341.38 L374.17 342.03 L375.57 342.69 L376.98 343.33 L378.38 343.98 L379.78 344.62 L381.19 345.25 L382.59 345.88 L383.99 346.51 L385.4 347.13 L386.8 347.75 L388.2 348.37 L389.6 348.98 L391.01 349.58 L392.41 350.19 L393.81 350.79 L395.22 351.38 L396.62 351.97 L398.02 352.56 L399.43 353.15 L400.83 353.73 L402.23 354.31 L403.63 354.88 L405.04 355.45 L406.44 356.02 L407.84 356.58 L409.25 357.14 L410.65 357.69 L412.05 358.25 L413.46 358.79 L414.86 359.34 L416.26 359.88 L417.66 360.42 L419.07 360.96 L420.47 361.49 L421.87 362.02 L423.28 362.54 L424.68 363.07 L426.08 363.58 L427.49 364.1 L428.89 364.61 L430.29 365.12 L431.69 365.63 L433.1 366.13 L434.5 366.63 L435.9 367.12 L437.31 367.62 L438.71 368.11 L440.11 368.59 L441.52 369.07 L442.92 369.55 L444.32 370.03 L445.72 370.5 L447.13 370.97 L448.53 371.43 L449.93 371.89 L451.34 372.35 L452.74 372.8 L454.14 373.25 L455.55 373.7 L456.95 374.15 L458.35 374.58 L459.75 375.02 L461.16 375.45 L462.56 375.88 L463.96 376.31 L465.37 376.73 L466.77 377.15 L468.17 377.57 L469.58 377.98 L470.98 378.39 L472.38 378.79 L473.78 379.19 L475.19 379.59 L476.59 379.98 L477.99 380.37 L479.4 380.76 L480.8 381.14 L482.2 381.52 L483.61 381.9 L485.01 382.28 L486.41 382.65 L487.82 383.02 L489.22 383.38 L490.62 383.74 L492.02 384.1 L493.43 384.46 L494.83 384.81 L496.23 385.17 L497.64 385.51 L499.04 385.86 L500.44 386.21 L501.85 386.55 L503.25 386.89 L504.65 387.23 L506.05 387.56 L507.46 387.89 L508.86 388.23 L510.26 388.55 L511.67 388.88 L513.07 389.21 L514.47 389.53 L515.88 389.85 L517.28 390.17 L518.68 390.49 L520.08 390.81 L521.49 391.12 L522.89 391.43 L524.29 391.74 L525.7 392.05 L527.1 392.36 L528.5 392.67 L529.91 392.97 L531.31 393.27 L532.71 393.57 L534.11 393.87 L535.52 394.17 L536.92 394.47 L538.32 394.76 L539.73 395.06 L541.13 395.35 L542.53 395.63 L543.94 395.92 L545.34 396.21 L546.74 396.49 L548.14 396.77 L549.55 397.05 L550.95 397.32 L552.35 397.6 L553.76 397.87 L555.16 398.14 L556.56 398.4 L557.97 398.67 L559.37 398.93 L560.77 399.19 L562.17 399.45 L563.58 399.7 L564.98 399.96 L566.38 400.21 L567.79 400.45 L569.19 400.7 L570.59 400.94 L572 401.18 L573.4 401.42 L574.8 401.66 L576.2 401.89 L577.61 402.12 L579.01 402.35 L580.41 402.57 L581.82 402.8 L583.22 403.02 L584.62 403.23 L586.03 403.45 L587.43 403.66 L588.83 403.87 L590.23 404.08 L591.64 404.29 L593.04 404.49 L594.44 404.69 L595.85 404.89 L597.25 405.09 L598.65 405.29 L600.06 405.48 L601.46 405.68 L602.86 405.87 L604.26 406.06 L605.67 406.25 L607.07 406.44 L608.47 406.63 L609.88 406.81 L611.28 407 L612.68 407.18 L614.09 407.36 L615.49 407.54 L616.89 407.73 L618.29 407.9 L619.7 408.08 L621.1 408.26 L622.5 408.44 L623.91 408.61 L625.31 408.79 L626.71 408.96 L628.12 409.13 L629.52 409.31 L630.92 409.48 L632.32 409.65 L633.73 409.82 L635.13 409.98 L636.53 410.15 L637.94 410.32 L639.34 410.48 L640.74 410.65 L642.15 410.81 L643.55 410.98 L644.95 411.14 L646.35 411.3 L647.76 411.46 L649.16 411.62 L650.56 411.78 L651.97 411.94 L653.37 412.09 L654.77 412.25 L656.18 412.4 L657.58 412.56 L658.98 412.71 L660.38 412.86 L661.79 413.01 L663.19 413.16 L664.59 413.31 L666 413.45 L667.4 413.6" stroke="#64c8c8"/>
<path d="M107.6 105 L109 107.07 L110.41 109.13 L111.81 111.17 L113.21 113.19 L114.62 115.2 L116.02 117.2 L117.42 119.18 L118.82 121.14 L120.23 123.1 L121.63 125.03 L123.03 126.96 L124.44 128.87 L125.84 130.77 L127.24 132.65 L128.65 134.52 L130.05 136.38 L131.45 138.23 L132.85 140.06 L134.26 141.88 L135.66 143.69 L137.06 145.48 L138.47 147.27 L139.87 149.04 L141.27 150.8 L142.68 152.55 L144.08 154.29 L145.48 156.01 L146.88 157.73 L148.29 159.43 L149.69 161.12 L151.09 162.81 L152.5 164.48 L153.9 166.14 L155.3 167.79 L156.71 169.43 L158.11 171.06 L159.51 172.68 L160.91 174.29 L162.32 175.88 L163.72 177.47 L165.12 179.05 L166.53 180.63 L167.93 182.19 L169.33 183.74 L170.74 185.28 L172.14 186.81 L173.54 188.34 L174.94 189.85 L176.35 191.36 L177.75 192.86 L179.15 194.35 L180.56 195.83 L181.96 197.3 L183.36 198.77 L184.77 200.22 L186.17 201.67 L187.57 203.11 L188.97 204.54 L190.38 205.96 L191.78 207.38 L193.18 208.79 L194.59 210.19 L195.99 211.58 L197.39 212.96 L198.8 214.34 L200.2 215.71 L201.6 217.07 L203 218.43 L204.41 219.78 L205.81 221.12 L207.21 222.45 L208.62 223.78 L210.02 225.1 L211.42 226.41 L212.83 227.72 L214.23 229.02 L215.63 230.31 L217.03 231.59 L218.44 232.87 L219.84 234.14 L221.24 235.41 L222.65 236.67 L224.05 237.92 L225.45 239.16 L226.86 240.4 L228.26 241.63 L229.66 242.85 L231.06 244.07 L232.47 245.28 L233.87 246.48 L235.27 247.67 L236.68 248.86 L238.08 250.04 L239.48 251.21 L240.89 252.38 L242.29 253.54 L243.69 254.69 L245.09 255.83 L246.5 256.97 L247.9 258.1 L249.3 259.22 L250.71 260.34 L252.11 261.44 L253.51 262.55 L254.92 263.64 L256.32 264.72 L257.72 265.8 L259.13 266.87 L260.53 267.94 L261.93 269 L263.33 270.05 L264.74 271.09 L266.14 272.12 L267.54 273.15 L268.95 274.17 L270.35 275.19 L271.75 276.19 L273.16 277.19 L274.56 278.19 L275.96 279.17 L277.36 280.15 L278.77 281.13 L280.17 282.09 L281.57 283.06 L282.98 284.01 L284.38 284.96 L285.78 285.9 L287.19 286.84 L288.59 287.77 L289.99 288.7 L291.39 289.62 L292.8 290.53 L294.2 291.44 L295.6 292.34 L297.01 293.24 L298.41 294.13 L299.81 295.02 L301.22 295.9 L302.62 296.78 L304.02 297.65 L305.42 298.52 L306.83 299.38 L308.23 300.24 L309.63 301.09 L311.04 301.94 L312.44 302.78 L313.84 303.62 L315.25 304.46 L316.65 305.29 L318.05 306.11 L319.45 306.93 L320.86 307.75 L322.26 308.56 L323.66 309.37 L325.07 310.17 L326.47 310.97 L327.87 311.77 L329.28 312.56 L330.68 313.34 L332.08 314.12 L333.48 314.9 L334.89 315.67 L336.29 316.44 L337.69 317.21 L339.1 317.97 L340.5 318.72 L341.9 319.47 L343.31 320.22 L344.71 320.96 L346.11 321.7 L347.51 322.43 L348.92 323.16 L350.32 323.89 L351.72 324.61 L353.13 325.32 L354.53 326.04 L355.93 326.74 L357.34 327.45 L358.74 328.14 L360.14 328.84 L361.54 329.53 L362.95 330.21 L364.35 330.9 L365.75 331.57 L367.16 332.25 L368.56 332.91 L369.96 333.58 L371.37 334.24 L372.77 334.89 L374.17 335.55 L375.57 336.19 L376.98 336.84 L378.38 337.48 L379.78 338.11 L381.19 338.74 L382.59 339.37 L383.99 339.99 L385.4 340.61 L386.8 341.23 L388.2 341.84 L389.61 342.45 L391.01 343.05 L392.41 343.65 L393.81 344.25 L395.22 344.84 L396.62 345.43 L398.02 346.02 L399.43 346.6 L400.83 347.18 L402.23 347.76 L403.64 348.33 L405.04 348.9 L406.44 349.47 L407.84 350.03 L409.25 350.59 L410.65 351.14 L412.05 351.7 L413.46 352.25 L414.86 352.79 L416.26 353.34 L417.67 353.88 L419.07 354.42 L420.47 354.95 L421.87 355.48 L423.28 356.01 L424.68 356.54 L426.08 357.06 L427.49 357.58 L428.89 358.09 L430.29 358.61 L431.7 359.12 L433.1 359.63 L434.5 360.13 L435.9 360.63 L437.31 361.13 L438.71 361.62 L440.11 362.12 L441.52 362.6 L442.92 363.09 L444.32 363.57 L445.73 364.05 L447.13 364.52 L448.53 365 L449.93 365.46 L451.34 365.93 L452.74 366.39 L454.14 366.85 L455.55 367.3 L456.95 367.75 L458.35 368.2 L459.76 368.65 L461.16 369.09 L462.56 369.52 L463.96 369.96 L465.37 370.39 L466.77 370.82 L468.17 371.24 L469.58 371.66 L470.98 372.08 L472.38 372.49 L473.79 372.9 L475.19 373.31 L476.59 373.71 L477.99 374.11 L479.4 374.5 L480.8 374.9 L482.2 375.28 L483.61 375.67 L485.01 376.05 L486.41 376.43 L487.82 376.81 L489.22 377.18 L490.62 377.56 L492.02 377.92 L493.43 378.29 L494.83 378.65 L496.23 379.01 L497.64 379.37 L499.04 379.73 L500.44 380.08 L501.85 380.44 L503.25 380.79 L504.65 381.13 L506.05 381.48 L507.46 381.82 L508.86 382.17 L510.26 382.51 L511.67 382.84 L513.07 383.18 L514.47 383.52 L515.88 383.85 L517.28 384.18 L518.68 384.51 L520.08 384.84 L521.49 385.17 L522.89 385.5 L524.29 385.82 L525.7 386.14 L527.1 386.47" stroke="#64c8c8" stroke-dasharray="10.17 10.07"/>
<path d="M527.1 386.47 L528.52 386.79 L529.93 387.11 L531.35 387.43 L532.77 387.75 L534.19 388.07 L535.6 388.39 L537.02 388.71 L538.44 389.02 L539.85 389.33 L541.27 389.64 L542.69 389.95 L544.11 390.26 L545.52 390.57 L546.94 390.87 L548.36 391.17 L549.77 391.47 L551.19 391.77 L552.61 392.07 L554.03 392.36 L555.44 392.65 L556.86 392.94 L558.28 393.23 L559.69 393.51 L561.11 393.79 L562.53 394.07 L563.95 394.35 L565.36 394.63 L566.78 394.9 L568.2 395.17 L569.62 395.44 L571.03 395.7 L572.45 395.96 L573.87 396.22 L575.28 396.48 L576.7 396.73 L578.12 396.99 L579.54 397.24 L580.95 397.48 L582.37 397.73 L583.79 397.97 L585.2 398.21 L586.62 398.44 L588.04 398.68 L589.46 398.91 L590.87 399.14 L592.29 399.36 L593.71 399.59 L595.12 399.81 L596.54 400.03 L597.96 400.25 L599.38 400.47 L600.79 400.69 L602.21 400.9 L603.63 401.11 L605.04 401.33 L606.46 401.54 L607.88 401.74 L609.3 401.95 L610.71 402.16 L612.13 402.37 L613.55 402.57 L614.96 402.77 L616.38 402.98 L617.8 403.18 L619.22 403.38 L620.63 403.58 L622.05 403.78 L623.47 403.98 L624.88 404.17 L626.3 404.37 L627.72 404.57 L629.14 404.76 L630.55 404.96 L631.97 405.15 L633.39 405.35 L634.81 405.54 L636.22 405.73 L637.64 405.92 L639.06 406.11 L640.47 406.31 L641.89 406.5 L643.31 406.69 L644.73 406.87 L646.14 407.06 L647.56 407.25 L648.98 407.44 L650.39 407.62 L651.81 407.81 L653.23 408 L654.65 408.18 L656.06 408.36 L657.48 408.55 L658.9 408.73 L660.31 408.91 L661.73 409.09 L663.15 409.27 L664.57 409.45 L665.98 409.63 L667.4 409.81" stroke="#64c8c8" stroke-dasharray="10.17 10.07"/>
</g>
<path d="M107.6 42.1 H667.4 V419.4 H107.6 Z M107.6 419.4 v-7.5 M107.6 42.1 v7.5 M118.2 419.4 v-3.8 M118.2 42.1 v3.8 M128.8 419.4 v-3.8 M128.8 42.1 v3.8 M139.4 419.4 v-3.8 M139.4 42.1 v3.8 M150 419.4 v-3.8 M150 42.1 v3.8 M160.6 419.4 v-3.8 M160.6 42.1 v3.8 M171.2 419.4 v-3.8 M171.2 42.1 v3.8 M181.8 419.4 v-3.8 M181.8 42.1 v3.8 M192.4 419.4 v-3.8 M192.4 42.1 v3.8 M203 419.4 v-3.8 M203 42.1 v3.8 M213.6 419.4 v-7.5 M213.6 42.1 v7.5 M224.2 419.4 v-3.8 M224.2 42.1 v3.8 M234.8 419.4 v-3.8 M234.8 42.1 v3.8 M245.4 419.4 v-3.8 M245.4 42.1 v3.8 M256 419.4 v-3.8 M256 42.1 v3.8 M266.6 419.4 v-3.8 M266.6 42.1 v3.8 M277.2 419.4 v-3.8 M277.2 42.1 v3.8 M287.8 419.4 v-3.8 M287.8 42.1 v3.8 M298.4 419.4 v-3.8 M298.4 42.1 v3.8 M309 419.4 v-3.8 M309 42.1 v3.8 M319.6 419.4 v-7.5 M319.6 42.1 v7.5 M330.2 419.4 v-3.8 M330.2 42.1 v3.8 M340.8 419.4 v-3.8 M340.8 42.1 v3.8 M351.4 419.4 v-3.8 M351.4 42.1 v3.8 M362 419.4 v-3.8 M362 42.1 v3.8 M372.6 419.4 v-3.8 M372.6 42.1 v3.8 M383.2 419.4 v-3.8 M383.2 42.1 v3.8 M393.8 419.4 v-3.8 M393.8 42.1 v3.8 M404.4 419.4 v-3.8 M404.4 42.1 v3.8 M415 419.4 v-3.8 M415 42.1 v3.8 M425.6 419.4 v-7.5 M425.6 42.1 v7.5 M436.2 419.4 v-3.8 M436.2 42.1 v3.8 M446.8 419.4 v-3.8 M446.8 42.1 v3.8 M457.4 419.4 v-3.8 M457.4 42.1 v3.8 M468 419.4 v-3.8 M468 42.1 v3.8 M478.6 419.4 v-3.8 M478.6 42.1 v3.8 M489.2 419.4 v-3.8 M489.2 42.1 v3.8 M499.8 419.4 v-3.8 M499.8 42.1 v3.8 M510.4 419.4 v-3.8 M510.4 42.1 v3.8 M521 419.4 v-3.8 M521 42.1 v3.8 M531.6 419.4 v-7.5 M531.6 42.1 v7.5 M542.2 419.4 v-3.8 M542.2 42.1 v3.8 M552.8 419.4 v-3.8 M552.8 42.1 v3.8 M563.4 419.4 v-3.8 M563.4 42.1 v3.8 M574 419.4 v-3.8 M574 42.1 v3.8 M584.6 419.4 v-3.8 M584.6 42.1 v3.8 M595.2 419.4 v-3.8 M595.2 42.1 v3.8 M605.8 419.4 v-3.8 M605.8 42.1 v3.8 M616.4 419.4 v-3.8 M616.4 42.1 v3.8 M627 419.4 v-3.8 M627 42.1 v3.8 M637.6 419.4 v-7.5 M637.6 42.1 v7.5 M648.2 419.4 v-3.8 M648.2 42.1 v3.8 M658.8 419.4 v-3.8 M658.8 42.1 v3.8 M107.6 419.4 h11.5 M667.4 419.4 h-11.5 M107.6 403.68 h5.9 M667.4 403.68 h-5.9 M107.6 387.96 h5.9 M667.4 387.96 h-5.9 M107.6 372.24 h5.9 M667.4 372.24 h-5.9 M107.6 356.52 h11.5 M667.4 356.52 h-11.5 M107.6 340.8 h5.9 M667.4 340.8 h-5.9 M107.6 325.08 h5.9 M667.4 325.08 h-5.9 M107.6 309.36 h5.9 M667.4 309.36 h-5.9 M107.6 293.64 h11.5 M667.4 293.64 h-11.5 M107.6 277.92 h5.9 M667.4 277.92 h-5.9 M107.6 262.2 h5.9 M667.4 262.2 h-5.9 M107.6 246.48 h5.9 M667.4 246.48 h-5.9 M107.6 230.76 h11.5 M667.4 230.76 h-11.5 M107.6 215.04 h5.9 M667.4 215.04 h-5.9 M107.6 199.32 h5.9 M667.4 199.32 h-5.9 M107.6 183.6 h5.9 M667.4 183.6 h-5.9 M107.6 167.88 h11.5 M667.4 167.88 h-11.5 M107.6 152.16 h5.9 M667.4 152.16 h-5.9 M107.6 136.44 h5.9 M667.4 136.44 h-5.9 M107.6 120.72 h5.9 M667.4 120.72 h-5.9 M107.6 105 h11.5 M667.4 105 h-11.5 M107.6 89.28 h5.9 M667.4 89.28 h-5.9 M107.6 73.56 h5.9 M667.4 73.56 h-5.9 M107.6 57.84 h5.9 M667.4 57.84 h-5.9 M107.6 42.12 h11.5 M667.4 42.12 h-11.5" fill="none" stroke="#3c3c3c" stroke-width="0.9"/>
<path d="M72.05 45.24 L68.52 56.69 M73.45 42.55 L69.22 56.69 M73.45 42.55 L71.34 44.57 L69.22 45.92 L67.81 46.59 M72.75 44.57 L69.93 45.92 L67.81 46.59 M80.5 55.34 L79.8 56.02 L80.5 56.69 L81.21 56.02 L80.5 55.34 M91.08 45.24 L91.78 45.92 L91.08 46.59 L90.38 45.92 L90.38 45.24 L91.08 43.9 L91.78 43.22 L93.9 42.55 L96.02 42.55 L98.13 43.22 L98.84 44.57 L98.84 45.92 L98.13 47.26 L96.72 48.61 L94.61 49.96 L91.78 51.3 L89.67 52.65 L88.26 54 L86.85 56.69 M96.02 42.55 L97.42 43.22 L98.13 44.57 L98.13 45.92 L97.42 47.26 L96.02 48.61 L91.78 51.3 M87.56 55.34 L88.26 54.67 L89.67 54.67 L93.19 56.02 L95.31 56.02 L96.72 55.34 L97.42 54 M89.67 54.67 L93.19 56.69 L95.31 56.69 L96.72 56.02 L97.42 54 M72.05 102.12 L68.52 113.57 M73.45 99.43 L69.22 113.57 M73.45 99.43 L71.34 101.45 L69.22 102.8 L67.81 103.47 M72.75 101.45 L69.93 102.8 L67.81 103.47 M80.5 112.22 L79.8 112.9 L80.5 113.57 L81.21 112.9 L80.5 112.22 M94.61 99.43 L92.49 100.1 L91.08 101.45 L89.67 103.47 L88.97 105.49 L88.26 108.18 L88.26 110.2 L88.97 112.22 L89.67 112.9 L91.08 113.57 L92.49 113.57 L94.61 112.9 L96.02 111.55 L97.42 109.53 L98.13 107.51 L98.84 104.82 L98.84 102.8 L98.13 100.78 L97.42 100.1 L96.02 99.43 L94.61 99.43 M94.61 99.43 L93.19 100.1 L91.78 101.45 L90.38 103.47 L89.67 105.49 L88.97 108.18 L88.97 110.2 L89.67 112.22 L91.08 113.57 M92.49 113.57 L93.9 112.9 L95.31 111.55 L96.72 109.53 L97.42 107.51 L98.13 104.82 L98.13 102.8 L97.42 100.78 L96.02 99.43 M72.05 162.31 L69.93 162.98 L68.52 164.33 L67.11 166.35 L66.41 168.37 L65.7 171.06 L65.7 173.08 L66.41 175.1 L67.11 175.78 L68.52 176.45 L69.93 176.45 L72.05 175.78 L73.45 174.43 L74.86 172.41 L75.57 170.39 L76.28 167.7 L76.28 165.68 L75.57 163.66 L74.86 162.98 L73.45 162.31 L72.05 162.31 M72.05 162.31 L70.64 162.98 L69.22 164.33 L67.81 166.35 L67.11 168.37 L66.41 171.06 L66.41 173.08 L67.11 175.1 L68.52 176.45 M69.93 176.45 L71.34 175.78 L72.75 174.43 L74.16 172.41 L74.86 170.39 L75.57 167.7 L75.57 165.68 L74.86 163.66 L73.45 162.31 M80.5 175.1 L79.8 175.78 L80.5 176.45 L81.21 175.78 L80.5 175.1 M93.9 162.31 L91.78 162.98 L91.08 163.66 L90.38 165 L90.38 167.02 L91.08 168.37 L92.49 169.04 L94.61 169.04 L97.42 168.37 L98.13 167.7 L98.84 166.35 L98.84 164.33 L98.13 162.98 L96.02 162.31 L93.9 162.31 M93.9 162.31 L92.49 162.98 L91.78 163.66 L91.08 165 L91.08 167.02 L91.78 168.37 L92.49 169.04 M94.61 169.04 L96.72 168.37 L97.42 167.7 L98.13 166.35 L98.13 164.33 L97.42 162.98 L96.02 162.31 M92.49 169.04 L89.67 169.72 L88.26 171.06 L87.56 172.41 L87.56 174.43 L88.26 175.78 L90.38 176.45 L93.19 176.45 L96.02 175.78 L96.72 175.1 L97.42 173.76 L97.42 171.74 L96.72 170.39 L96.02 169.72 L94.61 169.04 M92.49 169.04 L90.38 169.72 L88.97 171.06 L88.26 172.41 L88.26 174.43 L88.97 175.78 L90.38 176.45 M93.19 176.45 L95.31 175.78 L96.02 175.1 L96.72 173.76 L96.72 171.06 L96.02 169.72 M72.05 225.19 L69.93 225.86 L68.52 227.21 L67.11 229.23 L66.41 231.25 L65.7 233.94 L65.7 235.96 L66.41 237.98 L67.11 238.66 L68.52 239.33 L69.93 239.33 L72.05 238.66 L73.45 237.31 L74.86 235.29 L75.57 233.27 L76.28 230.58 L76.28 228.56 L75.57 226.54 L74.86 225.86 L73.45 225.19 L72.05 225.19 M72.05 225.19 L70.64 225.86 L69.22 227.21 L67.81 229.23 L67.11 231.25 L66.41 233.94 L66.41 235.96 L67.11 237.98 L68.52 239.33 M69.93 239.33 L71.34 238.66 L72.75 237.31 L74.16 235.29 L74.86 233.27 L75.57 230.58 L75.57 228.56 L74.86 226.54 L73.45 225.19 M80.5 237.98 L79.8 238.66 L80.5 239.33 L81.21 238.66 L80.5 237.98 M98.13 227.21 L97.42 227.88 L98.13 228.56 L98.84 227.88 L98.84 227.21 L98.13 225.86 L96.72 225.19 L94.61 225.19 L92.49 225.86 L91.08 227.21 L89.67 229.23 L88.97 231.25 L88.26 233.94 L88.26 236.64 L88.97 237.98 L89.67 238.66 L91.08 239.33 L93.19 239.33 L95.31 238.66 L96.72 237.31 L97.42 235.96 L97.42 233.94 L96.72 232.6 L96.02 231.92 L94.61 231.25 L92.49 231.25 L91.08 231.92 L89.67 233.27 L88.97 234.62 M94.61 225.19 L93.19 225.86 L91.78 227.21 L90.38 229.23 L89.67 231.25 L88.97 233.94 L88.97 237.31 L89.67 238.66 M93.19 239.33 L94.61 238.66 L96.02 237.31 L96.72 235.96 L96.72 233.27 L96.02 231.92 M72.05 288.07 L69.93 288.74 L68.52 290.09 L67.11 292.11 L66.41 294.13 L65.7 296.82 L65.7 298.84 L66.41 300.86 L67.11 301.54 L68.52 302.21 L69.93 302.21 L72.05 301.54 L73.45 300.19 L74.86 298.17 L75.57 296.15 L76.28 293.46 L76.28 291.44 L75.57 289.42 L74.86 288.74 L73.45 288.07 L72.05 288.07 M72.05 288.07 L70.64 288.74 L69.22 290.09 L67.81 292.11 L67.11 294.13 L66.41 296.82 L66.41 298.84 L67.11 300.86 L68.52 302.21 M69.93 302.21 L71.34 301.54 L72.75 300.19 L74.16 298.17 L74.86 296.15 L75.57 293.46 L75.57 291.44 L74.86 289.42 L73.45 288.07 M80.5 300.86 L79.8 301.54 L80.5 302.21 L81.21 301.54 L80.5 300.86 M97.42 288.74 L93.19 302.21 M98.13 288.07 L93.9 302.21 M98.13 288.07 L87.56 298.17 L98.84 298.17 M72.05 350.95 L69.93 351.62 L68.52 352.97 L67.11 354.99 L66.41 357.01 L65.7 359.7 L65.7 361.72 L66.41 363.74 L67.11 364.42 L68.52 365.09 L69.93 365.09 L72.05 364.42 L73.45 363.07 L74.86 361.05 L75.57 359.03 L76.28 356.34 L76.28 354.32 L75.57 352.3 L74.86 351.62 L73.45 350.95 L72.05 350.95 M72.05 350.95 L70.64 351.62 L69.22 352.97 L67.81 354.99 L67.11 357.01 L66.41 359.7 L66.41 361.72 L67.11 363.74 L68.52 365.09 M69.93 365.09 L71.34 364.42 L72.75 363.07 L74.16 361.05 L74.86 359.03 L75.57 356.34 L75.57 354.32 L74.86 352.3 L73.45 350.95 M80.5 363.74 L79.8 364.42 L80.5 365.09 L81.21 364.42 L80.5 363.74 M91.08 353.64 L91.78 354.32 L91.08 354.99 L90.38 354.32 L90.38 353.64 L91.08 352.3 L91.78 351.62 L93.9 350.95 L96.02 350.95 L98.13 351.62 L98.84 352.97 L98.84 354.32 L98.13 355.66 L96.72 357.01 L94.61 358.36 L91.78 359.7 L89.67 361.05 L88.26 362.4 L86.85 365.09 M96.02 350.95 L97.42 351.62 L98.13 352.97 L98.13 354.32 L97.42 355.66 L96.02 357.01 L91.78 359.7 M87.56 363.74 L88.26 363.07 L89.67 363.07 L93.19 364.42 L95.31 364.42 L96.72 363.74 L97.42 362.4 M89.67 363.07 L93.19 365.09 L95.31 365.09 L96.72 364.42 L97.42 362.4 M72.05 405.33 L69.93 406 L68.52 407.35 L67.11 409.37 L66.41 411.39 L65.7 414.08 L65.7 416.1 L66.41 418.12 L67.11 418.8 L68.52 419.47 L69.93 419.47 L72.05 418.8 L73.45 417.45 L74.86 415.43 L75.57 413.41 L76.28 410.72 L76.28 408.7 L75.57 406.68 L74.86 406 L73.45 405.33 L72.05 405.33 M72.05 405.33 L70.64 406 L69.22 407.35 L67.81 409.37 L67.11 411.39 L66.41 414.08 L66.41 416.1 L67.11 418.12 L68.52 419.47 M69.93 419.47 L71.34 418.8 L72.75 417.45 L74.16 415.43 L74.86 413.41 L75.57 410.72 L75.57 408.7 L74.86 406.68 L73.45 405.33 M80.5 418.12 L79.8 418.8 L80.5 419.47 L81.21 418.8 L80.5 418.12 M94.61 405.33 L92.49 406 L91.08 407.35 L89.67 409.37 L88.97 411.39 L88.26 414.08 L88.26 416.1 L88.97 418.12 L89.67 418.8 L91.08 419.47 L92.49 419.47 L94.61 418.8 L96.02 417.45 L97.42 415.43 L98.13 413.41 L98.84 410.72 L98.84 408.7 L98.13 406.68 L97.42 406 L96.02 405.33 L94.61 405.33 M94.61 405.33 L93.19 406 L91.78 407.35 L90.38 409.37 L89.67 411.39 L88.97 414.08 L88.97 416.1 L89.67 418.12 L91.08 419.47 M92.49 419.47 L93.9 418.8 L95.31 417.45 L96.72 415.43 L97.42 413.41 L98.13 410.72 L98.13 408.7 L97.42 406.68 L96.02 405.33 M108.76 437.23 L106.64 437.9 L105.23 439.25 L103.82 441.27 L103.12 443.29 L102.41 445.98 L102.41 448 L103.12 450.02 L103.82 450.7 L105.23 451.37 L106.64 451.37 L108.76 450.7 L110.17 449.35 L111.58 447.33 L112.28 445.31 L112.99 442.62 L112.99 440.6 L112.28 438.58 L111.58 437.9 L110.17 437.23 L108.76 437.23 M108.76 437.23 L107.35 437.9 L105.94 439.25 L104.53 441.27 L103.82 443.29 L103.12 445.98 L103.12 448 L103.82 450.02 L105.23 451.37 M106.64 451.37 L108.05 450.7 L109.46 449.35 L110.87 447.33 L111.58 445.31 L112.28 442.62 L112.28 440.6 L111.58 438.58 L110.17 437.23 M214.76 439.92 L211.23 451.37 M216.17 437.23 L211.94 451.37 M216.17 437.23 L214.05 439.25 L211.94 440.6 L210.53 441.27 M215.46 439.25 L212.64 440.6 L210.53 441.27 M317.23 439.92 L317.94 440.6 L317.23 441.27 L316.53 440.6 L316.53 439.92 L317.23 438.58 L317.94 437.9 L320.05 437.23 L322.17 437.23 L324.28 437.9 L324.99 439.25 L324.99 440.6 L324.28 441.94 L322.87 443.29 L320.76 444.64 L317.94 445.98 L315.82 447.33 L314.41 448.68 L313 451.37 M322.17 437.23 L323.58 437.9 L324.28 439.25 L324.28 440.6 L323.58 441.94 L322.17 443.29 L317.94 445.98 M313.71 450.02 L314.41 449.35 L315.82 449.35 L319.35 450.7 L321.46 450.7 L322.87 450.02 L323.58 448.68 M315.82 449.35 L319.35 451.37 L321.46 451.37 L322.87 450.7 L323.58 448.68 M423.23 439.92 L423.94 440.6 L423.23 441.27 L422.53 440.6 L422.53 439.92 L423.23 438.58 L423.94 437.9 L426.05 437.23 L428.17 437.23 L430.28 437.9 L430.99 439.25 L430.99 440.6 L430.28 441.94 L428.17 443.29 L426.05 443.96 M428.17 437.23 L429.58 437.9 L430.28 439.25 L430.28 440.6 L429.58 441.94 L428.17 443.29 M424.64 443.96 L426.05 443.96 L428.17 444.64 L428.87 445.31 L429.58 446.66 L429.58 448.68 L428.87 450.02 L428.17 450.7 L426.05 451.37 L423.23 451.37 L421.12 450.7 L420.41 450.02 L419.71 448.68 L419.71 448 L420.41 447.33 L421.12 448 L420.41 448.68 M426.05 443.96 L427.46 444.64 L428.17 445.31 L428.87 446.66 L428.87 448.68 L428.17 450.02 L427.46 450.7 L426.05 451.37 M535.58 437.9 L531.35 451.37 M536.28 437.23 L532.05 451.37 M536.28 437.23 L525.71 447.33 L536.99 447.33 M636.64 437.23 L633.12 443.96 M636.64 437.23 L643.69 437.23 M636.64 437.9 L640.17 437.9 L643.69 437.23 M633.12 443.96 L633.82 443.29 L635.94 442.62 L638.05 442.62 L640.17 443.29 L640.87 443.96 L641.58 445.31 L641.58 447.33 L640.87 449.35 L639.46 450.7 L637.35 451.37 L635.23 451.37 L633.12 450.7 L632.41 450.02 L631.71 448.68 L631.71 448 L632.41 447.33 L633.12 448 L632.41 448.68 M638.05 442.62 L639.46 443.29 L640.17 443.96 L640.87 445.31 L640.87 447.33 L640.17 449.35 L638.76 450.7 L637.35 451.37 M367.92 465.07 L365.1 474.5 L364.39 477.19 L364.39 478.54 L365.1 479.21 L367.21 479.21 L368.62 477.86 L369.33 476.52 M368.62 465.07 L365.8 474.5 L365.1 477.19 L365.1 478.54 L365.8 479.21 M363.69 469.78 L370.03 469.78 M388.71 462.38 L370.38 483.92 M394 465.07 L389.77 479.21 M394.71 465.07 L390.48 479.21 M391.89 465.07 L400.35 465.07 L402.46 465.74 L403.17 467.09 L403.17 468.44 L402.46 470.46 L401.05 471.8 L398.23 472.48 L392.59 472.48 M400.35 465.07 L401.76 465.74 L402.46 467.09 L402.46 468.44 L401.76 470.46 L400.35 471.8 L398.23 472.48 M387.66 479.21 L392.59 479.21 M409.33 476.44 L407.97 476.87 L407.06 477.74 L406.15 479.04 L405.69 480.35 L405.24 482.08 L405.24 483.39 L405.69 484.69 L406.15 485.13 L407.06 485.56 L407.97 485.56 L409.33 485.13 L410.24 484.26 L411.15 482.95 L411.61 481.65 L412.06 479.91 L412.06 478.61 L411.61 477.3 L411.15 476.87 L410.24 476.44 L409.33 476.44 M409.33 476.44 L408.42 476.87 L407.51 477.74 L406.6 479.04 L406.15 480.35 L405.69 482.08 L405.69 483.39 L406.15 484.69 L407.06 485.56 M407.97 485.56 L408.88 485.13 L409.79 484.26 L410.7 482.95 L411.15 481.65 L411.61 479.91 L411.61 478.61 L411.15 477.3 L410.24 476.44 M29.2 263.8 L43.9 272.9 M29.2 263.8 L43.9 263.1 M30.6 264.5 L43.9 263.8 M39.7 270.1 L39.7 263.8 M43.9 274.3 L43.9 270.1 M43.9 265.9 L43.9 261.7 M26.4 248.4 L28.5 251.2 L30.6 253.3 L32.7 254.7 L35.5 256.1 L39 256.8 L41.8 256.8 L45.3 256.1 L47.4 255.4 L48.8 254.7 M28.5 251.2 L31.3 253.3 L34.1 254.7 L36.2 255.4 L39.7 256.1 L43.2 256.1 L46.7 255.4 L48.8 254.7 M29.2 242.1 L39 244.9 L41.8 245.6 L43.2 245.6 L43.9 244.9 L43.9 242.8 L42.5 241.4 L41.1 240.7 M29.2 241.4 L39 244.2 L41.8 244.9 L43.2 244.9 L43.9 244.2 M34.1 246.3 L34.1 240 M26.4 232.3 L27.8 231.6 L29.9 230.9 L33.4 230.2 L36.2 230.2 L39.7 230.9 L42.5 232.3 L44.6 233.7 L46.7 235.8 L48.8 238.6 M26.4 232.3 L28.5 231.6 L32 230.9 L35.5 230.9 L39 231.6 L41.1 232.3 L43.9 233.7 L46.7 235.8 M26.4 210.95 L48.8 229.15 M29.2 202.9 L43.9 212 M29.2 202.9 L43.9 202.2 M30.6 203.6 L43.9 202.9 M39.7 209.2 L39.7 202.9 M43.9 213.4 L43.9 209.2 M43.9 205 L43.9 200.8 M40.6 192.6 L41.05 193.95 L41.95 194.85 L43.3 195.75 L44.65 196.2 L46.45 196.65 L47.8 196.65 L49.15 196.2 L49.6 195.75 L50.05 194.85 L50.05 193.95 L49.6 192.6 L48.7 191.7 L47.35 190.8 L46 190.35 L44.2 189.9 L42.85 189.9 L41.5 190.35 L41.05 190.8 L40.6 191.7 L40.6 192.6 M40.6 192.6 L41.05 193.5 L41.95 194.4 L43.3 195.3 L44.65 195.75 L46.45 196.2 L47.8 196.2 L49.15 195.75 L50.05 194.85 M50.05 193.95 L49.6 193.05 L48.7 192.15 L47.35 191.25 L46 190.8 L44.2 190.35 L42.85 190.35 L41.5 190.8 L40.6 191.7" fill="none" stroke="#2a2a2a" stroke-width="1.02" stroke-linecap="round" stroke-linejoin="round"/>
<path d="M19.64 35.52 L18.49 36.67 L17.33 38.4 L16.18 40.71 L15.6 43.6 L15.6 45.9 L16.18 48.79 L17.33 51.1 L18.49 52.83 L19.64 53.98 L20.22 53.98 M19.64 35.52 L20.22 35.52 L19.06 36.67 L17.91 38.4 L16.75 40.71 L16.18 43.6 L16.18 45.9 L16.75 48.79 L17.91 51.1 L19.06 52.83 L20.22 53.98 M24.83 37.83 L24.83 49.94 M25.41 37.83 L25.41 49.94 M25.41 43.6 L26.56 42.44 L27.72 41.87 L28.87 41.87 L30.6 42.44 L31.76 43.6 L32.33 45.33 L32.33 46.48 L31.76 48.21 L30.6 49.37 L28.87 49.94 L27.72 49.94 L26.56 49.37 L25.41 48.21 M28.87 41.87 L30.03 42.44 L31.18 43.6 L31.76 45.33 L31.76 46.48 L31.18 48.21 L30.03 49.37 L28.87 49.94 M23.1 37.83 L25.41 37.83 M35.8 35.52 L36.95 36.67 L38.1 38.4 L39.26 40.71 L39.84 43.6 L39.84 45.9 L39.26 48.79 L38.1 51.1 L36.95 52.83 L35.8 53.98 L36.37 53.98 M35.8 35.52 L36.37 35.52 L37.53 36.67 L38.68 38.4 L39.84 40.71 L40.41 43.6 L40.41 45.9 L39.84 48.79 L38.68 51.1 L37.53 52.83 L36.37 53.98" fill="none" stroke="#2a2a2a" stroke-width="0.85" stroke-linecap="round" stroke-linejoin="round"/>
<path d="M591.41 165.01 L589.64 165.6 L588.46 166.78 L587.28 168.55 L586.69 170.32 L586.1 172.68 L586.1 174.45 L586.69 176.22 L587.28 176.81 L588.46 177.4 L589.64 177.4 L591.41 176.81 L592.59 175.63 L593.77 173.86 L594.36 172.09 L594.95 169.73 L594.95 167.96 L594.36 166.19 L593.77 165.6 L592.59 165.01 L591.41 165.01 M591.41 165.01 L590.23 165.6 L589.05 166.78 L587.87 168.55 L587.28 170.32 L586.69 172.68 L586.69 174.45 L587.28 176.22 L588.46 177.4 M589.64 177.4 L590.82 176.81 L592 175.63 L593.18 173.86 L593.77 172.09 L594.36 169.73 L594.36 167.96 L593.77 166.19 L592.59 165.01" fill="none" stroke="#000000" stroke-width="0.9" stroke-linecap="round" stroke-linejoin="round"/>
<path d="M591.71 233.91 L589.94 234.5 L588.76 235.68 L587.58 237.45 L586.99 239.22 L586.4 241.58 L586.4 243.35 L586.99 245.12 L587.58 245.71 L588.76 246.3 L589.94 246.3 L591.71 245.71 L592.89 244.53 L594.07 242.76 L594.66 240.99 L595.25 238.63 L595.25 236.86 L594.66 235.09 L594.07 234.5 L592.89 233.91 L591.71 233.91 M591.71 233.91 L590.53 234.5 L589.35 235.68 L588.17 237.45 L587.58 239.22 L586.99 241.58 L586.99 243.35 L587.58 245.12 L588.76 246.3 M589.94 246.3 L591.12 245.71 L592.3 244.53 L593.48 242.76 L594.07 240.99 L594.66 238.63 L594.66 236.86 L594.07 235.09 L592.89 233.91 M598.79 245.12 L598.2 245.71 L598.79 246.3 L599.38 245.71 L598.79 245.12 M610.59 233.91 L608.82 234.5 L607.64 235.68 L606.46 237.45 L605.87 239.22 L605.28 241.58 L605.28 243.35 L605.87 245.12 L606.46 245.71 L607.64 246.3 L608.82 246.3 L610.59 245.71 L611.77 244.53 L612.95 242.76 L613.54 240.99 L614.13 238.63 L614.13 236.86 L613.54 235.09 L612.95 234.5 L611.77 233.91 L610.59 233.91 M610.59 233.91 L609.41 234.5 L608.23 235.68 L607.05 237.45 L606.46 239.22 L605.87 241.58 L605.87 243.35 L606.46 245.12 L607.64 246.3 M608.82 246.3 L610 245.71 L611.18 244.53 L612.36 242.76 L612.95 240.99 L613.54 238.63 L613.54 236.86 L612.95 235.09 L611.77 233.91 M622.98 236.27 L620.03 246.3 M624.16 233.91 L620.62 246.3 M624.16 233.91 L622.39 235.68 L620.62 236.86 L619.44 237.45 M623.57 235.68 L621.21 236.86 L619.44 237.45" fill="none" stroke="#0000ff" stroke-width="0.9" stroke-linecap="round" stroke-linejoin="round"/>
<path d="M591.81 281.31 L590.04 281.9 L588.86 283.08 L587.68 284.85 L587.09 286.62 L586.5 288.98 L586.5 290.75 L587.09 292.52 L587.68 293.11 L588.86 293.7 L590.04 293.7 L591.81 293.11 L592.99 291.93 L594.17 290.16 L594.76 288.39 L595.35 286.03 L595.35 284.26 L594.76 282.49 L594.17 281.9 L592.99 281.31 L591.81 281.31 M591.81 281.31 L590.63 281.9 L589.45 283.08 L588.27 284.85 L587.68 286.62 L587.09 288.98 L587.09 290.75 L587.68 292.52 L588.86 293.7 M590.04 293.7 L591.22 293.11 L592.4 291.93 L593.58 290.16 L594.17 288.39 L594.76 286.03 L594.76 284.26 L594.17 282.49 L592.99 281.31 M598.89 292.52 L598.3 293.11 L598.89 293.7 L599.48 293.11 L598.89 292.52 M610.69 281.31 L608.92 281.9 L607.74 283.08 L606.56 284.85 L605.97 286.62 L605.38 288.98 L605.38 290.75 L605.97 292.52 L606.56 293.11 L607.74 293.7 L608.92 293.7 L610.69 293.11 L611.87 291.93 L613.05 290.16 L613.64 288.39 L614.23 286.03 L614.23 284.26 L613.64 282.49 L613.05 281.9 L611.87 281.31 L610.69 281.31 M610.69 281.31 L609.51 281.9 L608.33 283.08 L607.15 284.85 L606.56 286.62 L605.97 288.98 L605.97 290.75 L606.56 292.52 L607.74 293.7 M608.92 293.7 L610.1 293.11 L611.28 291.93 L612.46 290.16 L613.05 288.39 L613.64 286.03 L613.64 284.26 L613.05 282.49 L611.87 281.31 M620.13 283.67 L620.72 284.26 L620.13 284.85 L619.54 284.26 L619.54 283.67 L620.13 282.49 L620.72 281.9 L622.49 281.31 L624.26 281.31 L626.03 281.9 L626.62 283.08 L626.62 284.26 L626.03 285.44 L624.85 286.62 L623.08 287.8 L620.72 288.98 L618.95 290.16 L617.77 291.34 L616.59 293.7 M624.26 281.31 L625.44 281.9 L626.03 283.08 L626.03 284.26 L625.44 285.44 L624.26 286.62 L620.72 288.98 M617.18 292.52 L617.77 291.93 L618.95 291.93 L621.9 293.11 L623.67 293.11 L624.85 292.52 L625.44 291.34 M618.95 291.93 L621.9 293.7 L623.67 293.7 L624.85 293.11 L625.44 291.34 M633.7 281.31 L630.75 287.21 M633.7 281.31 L639.6 281.31 M633.7 281.9 L636.65 281.9 L639.6 281.31 M630.75 287.21 L631.34 286.62 L633.11 286.03 L634.88 286.03 L636.65 286.62 L637.24 287.21 L637.83 288.39 L637.83 290.16 L637.24 291.93 L636.06 293.11 L634.29 293.7 L632.52 293.7 L630.75 293.11 L630.16 292.52 L629.57 291.34 L629.57 290.75 L630.16 290.16 L630.75 290.75 L630.16 291.34 M634.88 286.03 L636.06 286.62 L636.65 287.21 L637.24 288.39 L637.24 290.16 L636.65 291.93 L635.47 293.11 L634.29 293.7" fill="none" stroke="#ff0000" stroke-width="0.9" stroke-linecap="round" stroke-linejoin="round"/>
<path d="M533.01 293.81 L531.24 294.4 L530.06 295.58 L528.88 297.35 L528.29 299.12 L527.7 301.48 L527.7 303.25 L528.29 305.02 L528.88 305.61 L530.06 306.2 L531.24 306.2 L533.01 305.61 L534.19 304.43 L535.37 302.66 L535.96 300.89 L536.55 298.53 L536.55 296.76 L535.96 294.99 L535.37 294.4 L534.19 293.81 L533.01 293.81 M533.01 293.81 L531.83 294.4 L530.65 295.58 L529.47 297.35 L528.88 299.12 L528.29 301.48 L528.29 303.25 L528.88 305.02 L530.06 306.2 M531.24 306.2 L532.42 305.61 L533.6 304.43 L534.78 302.66 L535.37 300.89 L535.96 298.53 L535.96 296.76 L535.37 294.99 L534.19 293.81 M540.09 305.02 L539.5 305.61 L540.09 306.2 L540.68 305.61 L540.09 305.02 M551.89 293.81 L550.12 294.4 L548.94 295.58 L547.76 297.35 L547.17 299.12 L546.58 301.48 L546.58 303.25 L547.17 305.02 L547.76 305.61 L548.94 306.2 L550.12 306.2 L551.89 305.61 L553.07 304.43 L554.25 302.66 L554.84 300.89 L555.43 298.53 L555.43 296.76 L554.84 294.99 L554.25 294.4 L553.07 293.81 L551.89 293.81 M551.89 293.81 L550.71 294.4 L549.53 295.58 L548.35 297.35 L547.76 299.12 L547.17 301.48 L547.17 303.25 L547.76 305.02 L548.94 306.2 M550.12 306.2 L551.3 305.61 L552.48 304.43 L553.66 302.66 L554.25 300.89 L554.84 298.53 L554.84 296.76 L554.25 294.99 L553.07 293.81 M562.51 293.81 L559.56 299.71 M562.51 293.81 L568.41 293.81 M562.51 294.4 L565.46 294.4 L568.41 293.81 M559.56 299.71 L560.15 299.12 L561.92 298.53 L563.69 298.53 L565.46 299.12 L566.05 299.71 L566.64 300.89 L566.64 302.66 L566.05 304.43 L564.87 305.61 L563.1 306.2 L561.33 306.2 L559.56 305.61 L558.97 305.02 L558.38 303.84 L558.38 303.25 L558.97 302.66 L559.56 303.25 L558.97 303.84 M563.69 298.53 L564.87 299.12 L565.46 299.71 L566.05 300.89 L566.05 302.66 L565.46 304.43 L564.28 305.61 L563.1 306.2" fill="none" stroke="#00a000" stroke-width="0.9" stroke-linecap="round" stroke-linejoin="round"/>
<path d="M485.71 331.71 L483.94 332.3 L482.76 333.48 L481.58 335.25 L480.99 337.02 L480.4 339.38 L480.4 341.15 L480.99 342.92 L481.58 343.51 L482.76 344.1 L483.94 344.1 L485.71 343.51 L486.89 342.33 L488.07 340.56 L488.66 338.79 L489.25 336.43 L489.25 334.66 L488.66 332.89 L488.07 332.3 L486.89 331.71 L485.71 331.71 M485.71 331.71 L484.53 332.3 L483.35 333.48 L482.17 335.25 L481.58 337.02 L480.99 339.38 L480.99 341.15 L481.58 342.92 L482.76 344.1 M483.94 344.1 L485.12 343.51 L486.3 342.33 L487.48 340.56 L488.07 338.79 L488.66 336.43 L488.66 334.66 L488.07 332.89 L486.89 331.71 M492.79 342.92 L492.2 343.51 L492.79 344.1 L493.38 343.51 L492.79 342.92 M504.59 334.07 L501.64 344.1 M505.77 331.71 L502.23 344.1 M505.77 331.71 L504 333.48 L502.23 334.66 L501.05 335.25 M505.18 333.48 L502.82 334.66 L501.05 335.25" fill="none" stroke="#e0a012" stroke-width="0.9" stroke-linecap="round" stroke-linejoin="round"/>
<path d="M432.81 376.21 L431.04 376.8 L429.86 377.98 L428.68 379.75 L428.09 381.52 L427.5 383.88 L427.5 385.65 L428.09 387.42 L428.68 388.01 L429.86 388.6 L431.04 388.6 L432.81 388.01 L433.99 386.83 L435.17 385.06 L435.76 383.29 L436.35 380.93 L436.35 379.16 L435.76 377.39 L435.17 376.8 L433.99 376.21 L432.81 376.21 M432.81 376.21 L431.63 376.8 L430.45 377.98 L429.27 379.75 L428.68 381.52 L428.09 383.88 L428.09 385.65 L428.68 387.42 L429.86 388.6 M431.04 388.6 L432.22 388.01 L433.4 386.83 L434.58 385.06 L435.17 383.29 L435.76 380.93 L435.76 379.16 L435.17 377.39 L433.99 376.21 M439.89 387.42 L439.3 388.01 L439.89 388.6 L440.48 388.01 L439.89 387.42 M448.74 378.57 L449.33 379.16 L448.74 379.75 L448.15 379.16 L448.15 378.57 L448.74 377.39 L449.33 376.8 L451.1 376.21 L452.87 376.21 L454.64 376.8 L455.23 377.98 L455.23 379.16 L454.64 380.34 L453.46 381.52 L451.69 382.7 L449.33 383.88 L447.56 385.06 L446.38 386.24 L445.2 388.6 M452.87 376.21 L454.05 376.8 L454.64 377.98 L454.64 379.16 L454.05 380.34 L452.87 381.52 L449.33 383.88 M445.79 387.42 L446.38 386.83 L447.56 386.83 L450.51 388.01 L452.28 388.01 L453.46 387.42 L454.05 386.24 M447.56 386.83 L450.51 388.6 L452.28 388.6 L453.46 388.01 L454.05 386.24" fill="none" stroke="#64c8c8" stroke-width="0.9" stroke-linecap="round" stroke-linejoin="round"/>
</svg>
</body></html>
